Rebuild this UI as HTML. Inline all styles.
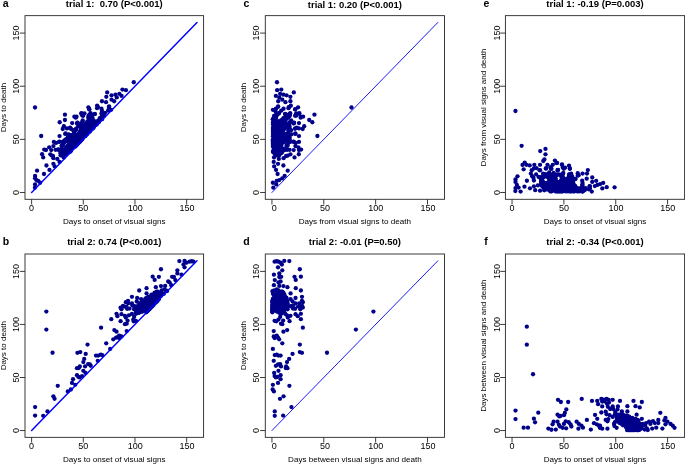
<!DOCTYPE html>
<html lang="en">
<head>
<meta charset="utf-8">
<title>Scatter plots: days to onset of visual signs and days to death</title>
<style>
html,body{margin:0;padding:0;background:#fff;}
body{width:685px;height:464px;overflow:hidden;}
svg{display:block;font-family:"Liberation Sans",Arial,Helvetica,sans-serif;}
.t{font-size:9.5px;font-weight:bold;fill:#000;text-anchor:middle;}
.l{font-size:10.5px;font-weight:bold;fill:#000;}
.k{font-size:9px;fill:#000;text-anchor:middle;}
.x{font-size:8.1px;fill:#000;text-anchor:middle;}
.y{font-size:8px;fill:#000;text-anchor:middle;}
.fr{fill:none;stroke:#262626;stroke-width:0.9;}
.tk{stroke:#262626;stroke-width:0.9;fill:none;}
.d{stroke:#0000ff;fill:none;stroke-linecap:round;}
.p circle{fill:#00008b;}
</style>
</head>
<body>
<svg width="685" height="464" viewBox="0 0 685 464">
<rect width="685" height="464" fill="#fff"/>
<g id="panel-a">
<g class="p"><circle cx="41.19" cy="136.02" r="2.15"/><circle cx="59.7" cy="122.25" r="2.15"/><circle cx="64.94" cy="114.67" r="2.15"/><circle cx="64.94" cy="120.02" r="2.15"/><circle cx="63.88" cy="126.27" r="2.15"/><circle cx="62.75" cy="129.01" r="2.15"/><circle cx="74.36" cy="116.63" r="2.15"/><circle cx="76.54" cy="116.75" r="2.15"/><circle cx="44.24" cy="149.61" r="2.15"/><circle cx="42.06" cy="154.23" r="2.15"/><circle cx="45.99" cy="150.01" r="2.15"/><circle cx="49.22" cy="147.3" r="2.15"/><circle cx="53.85" cy="141.93" r="2.15"/><circle cx="59.52" cy="136.1" r="2.15"/><circle cx="43.19" cy="157.44" r="2.15"/><circle cx="37.08" cy="170.72" r="2.15"/><circle cx="66.94" cy="128.47" r="2.15"/><circle cx="72.18" cy="123.08" r="2.15"/><circle cx="70" cy="127.69" r="2.15"/><circle cx="65.63" cy="133.49" r="2.15"/><circle cx="70.87" cy="128.54" r="2.15"/><circle cx="81.35" cy="113.65" r="2.15"/><circle cx="82.22" cy="115.55" r="2.15"/><circle cx="76.98" cy="123.58" r="2.15"/><circle cx="51.23" cy="150.05" r="2.15"/><circle cx="53.41" cy="146.05" r="2.15"/><circle cx="56.03" cy="142.93" r="2.15"/><circle cx="59.09" cy="141.97" r="2.15"/><circle cx="35.08" cy="175.89" r="2.15"/><circle cx="35.08" cy="178.34" r="2.15"/><circle cx="36.39" cy="180.05" r="2.15"/><circle cx="35.08" cy="184.47" r="2.15"/><circle cx="38.14" cy="180.89" r="2.15"/><circle cx="34.9" cy="187.72" r="2.15"/><circle cx="40.14" cy="182.76" r="2.15"/><circle cx="43.99" cy="173.99" r="2.15"/><circle cx="46.43" cy="165.52" r="2.15"/><circle cx="49.49" cy="169.92" r="2.15"/><circle cx="50.35" cy="154.31" r="2.15"/><circle cx="51.67" cy="155.59" r="2.15"/><circle cx="55.59" cy="149.8" r="2.15"/><circle cx="58.21" cy="149.73" r="2.15"/><circle cx="53.41" cy="158.17" r="2.15"/><circle cx="52.97" cy="155.99" r="2.15"/><circle cx="53.41" cy="163.87" r="2.15"/><circle cx="54.71" cy="166.46" r="2.15"/><circle cx="59.52" cy="161.96" r="2.15"/><circle cx="57.34" cy="158.95" r="2.15"/><circle cx="75.75" cy="117.69" r="2.15"/><circle cx="81.42" cy="113.17" r="2.15"/><circle cx="88.4" cy="107.3" r="2.15"/><circle cx="77.48" cy="122.9" r="2.15"/><circle cx="107.17" cy="92.38" r="2.15"/><circle cx="101.93" cy="101.27" r="2.15"/><circle cx="97.13" cy="105.77" r="2.15"/><circle cx="106.3" cy="96.78" r="2.15"/><circle cx="98" cy="107.06" r="2.15"/><circle cx="106.03" cy="102.13" r="2.15"/><circle cx="111.54" cy="95.34" r="2.15"/><circle cx="115.47" cy="94.63" r="2.15"/><circle cx="122.44" cy="89.55" r="2.15"/><circle cx="119.4" cy="93.83" r="2.15"/><circle cx="116.77" cy="97.4" r="2.15"/><circle cx="114.16" cy="101.23" r="2.15"/><circle cx="125.94" cy="90.16" r="2.15"/><circle cx="121.58" cy="95.96" r="2.15"/><circle cx="133.79" cy="82.26" r="2.15"/><circle cx="111.54" cy="99.72" r="2.15"/><circle cx="101.49" cy="108.73" r="2.15"/><circle cx="108.92" cy="106.79" r="2.15"/><circle cx="108.92" cy="108.98" r="2.15"/><circle cx="111.1" cy="109.8" r="2.15"/><circle cx="101.93" cy="119.23" r="2.15"/><circle cx="101.49" cy="113.54" r="2.15"/><circle cx="94.52" cy="114.16" r="2.15"/><circle cx="89.28" cy="109.47" r="2.15"/><circle cx="89.28" cy="115.16" r="2.15"/><circle cx="83.16" cy="115.75" r="2.15"/><circle cx="101.93" cy="116.16" r="2.15"/><circle cx="77.45" cy="122.69" r="2.15"/><circle cx="65.23" cy="133.95" r="2.15"/><circle cx="70.47" cy="128.56" r="2.15"/><circle cx="89.24" cy="109.26" r="2.15"/><circle cx="84.44" cy="113.32" r="2.15"/><circle cx="97.09" cy="108.19" r="2.15"/><circle cx="90.55" cy="113.17" r="2.15"/><circle cx="82.69" cy="120.37" r="2.15"/><circle cx="73.09" cy="130.24" r="2.15"/><circle cx="68.72" cy="134.3" r="2.15"/><circle cx="62.61" cy="141.89" r="2.15"/><circle cx="59.55" cy="141.53" r="2.15"/><circle cx="58.25" cy="149.44" r="2.15"/><circle cx="91.42" cy="116.21" r="2.15"/><circle cx="94.91" cy="113.94" r="2.15"/><circle cx="71.35" cy="135.54" r="2.15"/><circle cx="82.69" cy="125.63" r="2.15"/><circle cx="73.96" cy="134.16" r="2.15"/><circle cx="69.6" cy="139.96" r="2.15"/><circle cx="60.86" cy="149.82" r="2.15"/><circle cx="101.9" cy="119.17" r="2.15"/><circle cx="101.9" cy="117.04" r="2.15"/><circle cx="101.9" cy="114.91" r="2.15"/><circle cx="101.9" cy="112.79" r="2.15"/><circle cx="101.9" cy="110.66" r="2.15"/><circle cx="109.13" cy="108.54" r="2.15"/><circle cx="109.13" cy="106.41" r="2.15"/><circle cx="108.1" cy="110.66" r="2.15"/><circle cx="103.96" cy="115.98" r="2.15"/><circle cx="105" cy="112.79" r="2.15"/><circle cx="35.03" cy="107.48" r="2.15"/><circle cx="69.86" cy="152.11" r="2.15"/><circle cx="70.89" cy="151.05" r="2.15"/><circle cx="75.02" cy="146.8" r="2.15"/><circle cx="76.06" cy="145.74" r="2.15"/><circle cx="77.09" cy="144.67" r="2.15"/><circle cx="78.13" cy="143.61" r="2.15"/><circle cx="79.16" cy="142.55" r="2.15"/><circle cx="80.19" cy="141.48" r="2.15"/><circle cx="81.23" cy="140.42" r="2.15"/><circle cx="82.26" cy="139.36" r="2.15"/><circle cx="85.36" cy="136.17" r="2.15"/><circle cx="87.43" cy="134.04" r="2.15"/><circle cx="89.49" cy="131.92" r="2.15"/><circle cx="90.53" cy="130.86" r="2.15"/><circle cx="92.6" cy="128.73" r="2.15"/><circle cx="93.63" cy="127.67" r="2.15"/><circle cx="96.73" cy="124.48" r="2.15"/><circle cx="98.8" cy="122.35" r="2.15"/><circle cx="63.66" cy="157.43" r="2.15"/><circle cx="68.82" cy="152.11" r="2.15"/><circle cx="69.86" cy="151.05" r="2.15"/><circle cx="70.89" cy="149.99" r="2.15"/><circle cx="71.92" cy="148.92" r="2.15"/><circle cx="72.96" cy="147.86" r="2.15"/><circle cx="73.99" cy="146.8" r="2.15"/><circle cx="76.06" cy="144.67" r="2.15"/><circle cx="78.13" cy="142.55" r="2.15"/><circle cx="79.16" cy="141.48" r="2.15"/><circle cx="81.23" cy="139.36" r="2.15"/><circle cx="82.26" cy="138.3" r="2.15"/><circle cx="83.29" cy="137.23" r="2.15"/><circle cx="85.36" cy="135.11" r="2.15"/><circle cx="87.43" cy="132.98" r="2.15"/><circle cx="90.53" cy="129.79" r="2.15"/><circle cx="92.6" cy="127.67" r="2.15"/><circle cx="93.63" cy="126.61" r="2.15"/><circle cx="94.66" cy="125.54" r="2.15"/><circle cx="95.7" cy="124.48" r="2.15"/><circle cx="96.73" cy="123.42" r="2.15"/><circle cx="98.8" cy="121.29" r="2.15"/><circle cx="65.72" cy="154.24" r="2.15"/><circle cx="66.76" cy="153.17" r="2.15"/><circle cx="67.79" cy="152.11" r="2.15"/><circle cx="69.86" cy="149.99" r="2.15"/><circle cx="73.99" cy="145.74" r="2.15"/><circle cx="76.06" cy="143.61" r="2.15"/><circle cx="77.09" cy="142.55" r="2.15"/><circle cx="80.19" cy="139.36" r="2.15"/><circle cx="82.26" cy="137.23" r="2.15"/><circle cx="83.29" cy="136.17" r="2.15"/><circle cx="84.33" cy="135.11" r="2.15"/><circle cx="85.36" cy="134.04" r="2.15"/><circle cx="86.39" cy="132.98" r="2.15"/><circle cx="87.43" cy="131.92" r="2.15"/><circle cx="90.53" cy="128.73" r="2.15"/><circle cx="91.56" cy="127.67" r="2.15"/><circle cx="93.63" cy="125.54" r="2.15"/><circle cx="94.66" cy="124.48" r="2.15"/><circle cx="95.7" cy="123.42" r="2.15"/><circle cx="96.73" cy="122.35" r="2.15"/><circle cx="98.8" cy="120.23" r="2.15"/><circle cx="99.83" cy="119.17" r="2.15"/><circle cx="63.66" cy="155.3" r="2.15"/><circle cx="65.72" cy="153.17" r="2.15"/><circle cx="66.76" cy="152.11" r="2.15"/><circle cx="68.82" cy="149.99" r="2.15"/><circle cx="73.99" cy="144.67" r="2.15"/><circle cx="75.02" cy="143.61" r="2.15"/><circle cx="76.06" cy="142.55" r="2.15"/><circle cx="78.13" cy="140.42" r="2.15"/><circle cx="79.16" cy="139.36" r="2.15"/><circle cx="83.29" cy="135.11" r="2.15"/><circle cx="84.33" cy="134.04" r="2.15"/><circle cx="86.39" cy="131.92" r="2.15"/><circle cx="87.43" cy="130.86" r="2.15"/><circle cx="88.46" cy="129.79" r="2.15"/><circle cx="89.49" cy="128.73" r="2.15"/><circle cx="90.53" cy="127.67" r="2.15"/><circle cx="94.66" cy="123.42" r="2.15"/><circle cx="95.7" cy="122.35" r="2.15"/><circle cx="96.73" cy="121.29" r="2.15"/><circle cx="99.83" cy="118.1" r="2.15"/><circle cx="62.62" cy="155.3" r="2.15"/><circle cx="68.82" cy="148.92" r="2.15"/><circle cx="70.89" cy="146.8" r="2.15"/><circle cx="71.92" cy="145.74" r="2.15"/><circle cx="75.02" cy="142.55" r="2.15"/><circle cx="79.16" cy="138.3" r="2.15"/><circle cx="80.19" cy="137.23" r="2.15"/><circle cx="81.23" cy="136.17" r="2.15"/><circle cx="83.29" cy="134.04" r="2.15"/><circle cx="87.43" cy="129.79" r="2.15"/><circle cx="91.56" cy="125.54" r="2.15"/><circle cx="61.59" cy="155.3" r="2.15"/><circle cx="62.62" cy="154.24" r="2.15"/><circle cx="63.66" cy="153.17" r="2.15"/><circle cx="66.76" cy="149.99" r="2.15"/><circle cx="70.89" cy="145.74" r="2.15"/><circle cx="75.02" cy="141.48" r="2.15"/><circle cx="80.19" cy="136.17" r="2.15"/><circle cx="81.23" cy="135.11" r="2.15"/><circle cx="82.26" cy="134.04" r="2.15"/><circle cx="84.33" cy="131.92" r="2.15"/><circle cx="87.43" cy="128.73" r="2.15"/><circle cx="88.46" cy="127.67" r="2.15"/><circle cx="89.49" cy="126.61" r="2.15"/><circle cx="90.53" cy="125.54" r="2.15"/><circle cx="91.56" cy="124.48" r="2.15"/><circle cx="92.6" cy="123.42" r="2.15"/><circle cx="93.63" cy="122.35" r="2.15"/><circle cx="94.66" cy="121.29" r="2.15"/><circle cx="60.55" cy="155.3" r="2.15"/><circle cx="61.59" cy="154.24" r="2.15"/><circle cx="62.62" cy="153.17" r="2.15"/><circle cx="65.72" cy="149.99" r="2.15"/><circle cx="67.79" cy="147.86" r="2.15"/><circle cx="68.82" cy="146.8" r="2.15"/><circle cx="69.86" cy="145.74" r="2.15"/><circle cx="70.89" cy="144.67" r="2.15"/><circle cx="71.92" cy="143.61" r="2.15"/><circle cx="73.99" cy="141.48" r="2.15"/><circle cx="75.02" cy="140.42" r="2.15"/><circle cx="77.09" cy="138.3" r="2.15"/><circle cx="78.13" cy="137.23" r="2.15"/><circle cx="79.16" cy="136.17" r="2.15"/><circle cx="83.29" cy="131.92" r="2.15"/><circle cx="86.39" cy="128.73" r="2.15"/><circle cx="87.43" cy="127.67" r="2.15"/><circle cx="89.49" cy="125.54" r="2.15"/><circle cx="93.63" cy="121.29" r="2.15"/><circle cx="61.59" cy="153.17" r="2.15"/><circle cx="62.62" cy="152.11" r="2.15"/><circle cx="63.66" cy="151.05" r="2.15"/><circle cx="65.72" cy="148.92" r="2.15"/><circle cx="68.82" cy="145.74" r="2.15"/><circle cx="69.86" cy="144.67" r="2.15"/><circle cx="70.89" cy="143.61" r="2.15"/><circle cx="71.92" cy="142.55" r="2.15"/><circle cx="73.99" cy="140.42" r="2.15"/><circle cx="78.13" cy="136.17" r="2.15"/><circle cx="80.19" cy="134.04" r="2.15"/><circle cx="81.23" cy="132.98" r="2.15"/><circle cx="82.26" cy="131.92" r="2.15"/><circle cx="84.33" cy="129.79" r="2.15"/><circle cx="85.36" cy="128.73" r="2.15"/><circle cx="86.39" cy="127.67" r="2.15"/><circle cx="87.43" cy="126.61" r="2.15"/><circle cx="89.49" cy="124.48" r="2.15"/><circle cx="90.53" cy="123.42" r="2.15"/><circle cx="60.55" cy="153.17" r="2.15"/><circle cx="61.59" cy="152.11" r="2.15"/><circle cx="62.62" cy="151.05" r="2.15"/><circle cx="65.72" cy="147.86" r="2.15"/><circle cx="66.76" cy="146.8" r="2.15"/><circle cx="67.79" cy="145.74" r="2.15"/><circle cx="69.86" cy="143.61" r="2.15"/><circle cx="71.92" cy="141.48" r="2.15"/><circle cx="76.06" cy="137.23" r="2.15"/><circle cx="78.13" cy="135.11" r="2.15"/><circle cx="79.16" cy="134.04" r="2.15"/><circle cx="80.19" cy="132.98" r="2.15"/><circle cx="81.23" cy="131.92" r="2.15"/><circle cx="82.26" cy="130.86" r="2.15"/><circle cx="83.29" cy="129.79" r="2.15"/><circle cx="84.33" cy="128.73" r="2.15"/><circle cx="87.43" cy="125.54" r="2.15"/><circle cx="88.46" cy="124.48" r="2.15"/><circle cx="89.49" cy="123.42" r="2.15"/><circle cx="92.6" cy="120.23" r="2.15"/><circle cx="60.55" cy="152.11" r="2.15"/><circle cx="62.62" cy="149.99" r="2.15"/><circle cx="70.89" cy="141.48" r="2.15"/><circle cx="72.96" cy="139.36" r="2.15"/><circle cx="73.99" cy="138.3" r="2.15"/><circle cx="76.06" cy="136.17" r="2.15"/><circle cx="77.09" cy="135.11" r="2.15"/><circle cx="79.16" cy="132.98" r="2.15"/><circle cx="82.26" cy="129.79" r="2.15"/><circle cx="83.29" cy="128.73" r="2.15"/><circle cx="86.39" cy="125.54" r="2.15"/><circle cx="87.43" cy="124.48" r="2.15"/><circle cx="88.46" cy="123.42" r="2.15"/><circle cx="89.49" cy="122.35" r="2.15"/><circle cx="90.53" cy="121.29" r="2.15"/><circle cx="91.56" cy="120.23" r="2.15"/><circle cx="61.59" cy="149.99" r="2.15"/><circle cx="68.82" cy="142.55" r="2.15"/><circle cx="72.96" cy="138.3" r="2.15"/><circle cx="80.19" cy="130.86" r="2.15"/><circle cx="82.26" cy="128.73" r="2.15"/><circle cx="86.39" cy="124.48" r="2.15"/><circle cx="87.43" cy="123.42" r="2.15"/><circle cx="89.49" cy="121.29" r="2.15"/><circle cx="91.56" cy="119.17" r="2.15"/><circle cx="92.6" cy="118.1" r="2.15"/><circle cx="60.55" cy="149.99" r="2.15"/><circle cx="61.59" cy="148.92" r="2.15"/><circle cx="68.82" cy="141.48" r="2.15"/><circle cx="69.86" cy="140.42" r="2.15"/><circle cx="70.89" cy="139.36" r="2.15"/><circle cx="75.02" cy="135.11" r="2.15"/><circle cx="81.23" cy="128.73" r="2.15"/><circle cx="82.26" cy="127.67" r="2.15"/><circle cx="84.33" cy="125.54" r="2.15"/><circle cx="86.39" cy="123.42" r="2.15"/><circle cx="87.43" cy="122.35" r="2.15"/><circle cx="89.49" cy="120.23" r="2.15"/><circle cx="91.56" cy="118.1" r="2.15"/><circle cx="68.82" cy="140.42" r="2.15"/><circle cx="70.89" cy="138.3" r="2.15"/><circle cx="73.99" cy="135.11" r="2.15"/><circle cx="75.02" cy="134.04" r="2.15"/><circle cx="81.23" cy="127.67" r="2.15"/><circle cx="83.29" cy="125.54" r="2.15"/><circle cx="86.39" cy="122.35" r="2.15"/><circle cx="88.46" cy="120.23" r="2.15"/><circle cx="89.49" cy="119.17" r="2.15"/><circle cx="91.56" cy="117.04" r="2.15"/><circle cx="62.62" cy="145.74" r="2.15"/><circle cx="67.79" cy="140.42" r="2.15"/><circle cx="69.86" cy="138.3" r="2.15"/><circle cx="71.92" cy="136.17" r="2.15"/><circle cx="72.96" cy="135.11" r="2.15"/><circle cx="81.23" cy="126.61" r="2.15"/><circle cx="82.26" cy="125.54" r="2.15"/><circle cx="90.53" cy="117.04" r="2.15"/><circle cx="61.59" cy="145.74" r="2.15"/><circle cx="62.62" cy="144.67" r="2.15"/><circle cx="63.66" cy="143.61" r="2.15"/><circle cx="65.72" cy="141.48" r="2.15"/><circle cx="66.76" cy="140.42" r="2.15"/><circle cx="67.79" cy="139.36" r="2.15"/><circle cx="71.92" cy="135.11" r="2.15"/><circle cx="88.46" cy="118.1" r="2.15"/><circle cx="89.49" cy="117.04" r="2.15"/><circle cx="90.53" cy="115.98" r="2.15"/><circle cx="91.56" cy="114.91" r="2.15"/><circle cx="63.66" cy="142.55" r="2.15"/><circle cx="67.79" cy="138.3" r="2.15"/><circle cx="73.99" cy="131.92" r="2.15"/><circle cx="75.02" cy="130.86" r="2.15"/><circle cx="76.06" cy="129.79" r="2.15"/><circle cx="80.19" cy="125.54" r="2.15"/><circle cx="81.23" cy="124.48" r="2.15"/><circle cx="88.46" cy="117.04" r="2.15"/><circle cx="89.49" cy="115.98" r="2.15"/><circle cx="90.53" cy="114.91" r="2.15"/><circle cx="63.66" cy="141.48" r="2.15"/><circle cx="64.69" cy="140.42" r="2.15"/><circle cx="65.72" cy="139.36" r="2.15"/><circle cx="67.79" cy="137.23" r="2.15"/><circle cx="69.86" cy="135.11" r="2.15"/><circle cx="76.06" cy="128.73" r="2.15"/><circle cx="78.13" cy="126.61" r="2.15"/><circle cx="81.23" cy="123.42" r="2.15"/><circle cx="82.26" cy="122.35" r="2.15"/><circle cx="88.46" cy="115.98" r="2.15"/><circle cx="89.49" cy="114.91" r="2.15"/><circle cx="90.53" cy="113.85" r="2.15"/></g>
<line class="d" x1="31.61" y1="192.5" x2="196.99" y2="22.45" stroke-width="1.45"/>
<rect class="fr" x="25" y="15.65" width="178.6" height="183.65"/>
<path class="tk" d="M31.61 199.3v5.2M25 192.5h-5.2M83.29 199.3v5.2M25 139.36h-5.2M134.97 199.3v5.2M25 86.22h-5.2M186.65 199.3v5.2M25 33.08h-5.2"/>
<text class="k" x="31.61" y="211.2">0</text><text class="k" x="83.29" y="211.2">50</text><text class="k" x="135.27" y="211.2">100</text><text class="k" x="186.95" y="211.2">150</text>
<text class="k" transform="translate(18.8 192.5) rotate(-90)">0</text><text class="k" transform="translate(18.8 139.36) rotate(-90)">50</text><text class="k" transform="translate(18.8 86.22) rotate(-90)">100</text><text class="k" transform="translate(18.8 33.08) rotate(-90)">150</text>
<text class="x" x="114.3" y="223.9">Days to onset of visual signs</text>
<text class="y" transform="translate(6 107.48) rotate(-90)">Days to death</text>
<text class="t" x="114.3" y="7.3" xml:space="preserve">trial 1:  0.70 (P&lt;0.001)</text>
<text class="l" x="2.8" y="7.3">a</text>
</g>
<g id="panel-b">
<g class="p"><circle cx="46.35" cy="311.58" r="2.15"/><circle cx="46.35" cy="329.55" r="2.15"/><circle cx="52.54" cy="352.74" r="2.15"/><circle cx="35.08" cy="407.04" r="2.15"/><circle cx="35.08" cy="415.53" r="2.15"/><circle cx="43.19" cy="415.78" r="2.15"/><circle cx="47.47" cy="411.39" r="2.15"/><circle cx="57.77" cy="385.84" r="2.15"/><circle cx="53.41" cy="396.28" r="2.15"/><circle cx="54.55" cy="398.79" r="2.15"/><circle cx="77.41" cy="352.79" r="2.15"/><circle cx="76.98" cy="368.14" r="2.15"/><circle cx="78.72" cy="368.1" r="2.15"/><circle cx="73.05" cy="379.17" r="2.15"/><circle cx="72.01" cy="382.88" r="2.15"/><circle cx="76.98" cy="375.14" r="2.15"/><circle cx="78.29" cy="376.87" r="2.15"/><circle cx="67.81" cy="391.39" r="2.15"/><circle cx="70.87" cy="389.48" r="2.15"/><circle cx="75.23" cy="384.82" r="2.15"/><circle cx="80.29" cy="352.04" r="2.15"/><circle cx="87.54" cy="344.6" r="2.15"/><circle cx="101.07" cy="327.64" r="2.15"/><circle cx="111.28" cy="319.17" r="2.15"/><circle cx="85.7" cy="353.93" r="2.15"/><circle cx="84.22" cy="358.95" r="2.15"/><circle cx="83.34" cy="362.04" r="2.15"/><circle cx="79.85" cy="366.5" r="2.15"/><circle cx="85.09" cy="366.38" r="2.15"/><circle cx="83.34" cy="370.8" r="2.15"/><circle cx="88.15" cy="364.12" r="2.15"/><circle cx="89.9" cy="364.52" r="2.15"/><circle cx="90.77" cy="365.81" r="2.15"/><circle cx="85.53" cy="372.93" r="2.15"/><circle cx="82.03" cy="376.08" r="2.15"/><circle cx="79.42" cy="377.46" r="2.15"/><circle cx="96.01" cy="355.62" r="2.15"/><circle cx="98.19" cy="355.56" r="2.15"/><circle cx="100.8" cy="354.63" r="2.15"/><circle cx="102.29" cy="355.12" r="2.15"/><circle cx="97.75" cy="360.83" r="2.15"/><circle cx="106.22" cy="343.37" r="2.15"/><circle cx="110.15" cy="348.97" r="2.15"/><circle cx="114.34" cy="330.05" r="2.15"/><circle cx="116.52" cy="331.66" r="2.15"/><circle cx="117.39" cy="316.14" r="2.15"/><circle cx="116.52" cy="313.79" r="2.15"/><circle cx="113.29" cy="339.36" r="2.15"/><circle cx="116.08" cy="337.63" r="2.15"/><circle cx="118.27" cy="336.7" r="2.15"/><circle cx="119.14" cy="337.99" r="2.15"/><circle cx="125.83" cy="302.22" r="2.15"/><circle cx="128.02" cy="300.86" r="2.15"/><circle cx="131.94" cy="296.82" r="2.15"/><circle cx="139.19" cy="290.52" r="2.15"/><circle cx="120.59" cy="307.59" r="2.15"/><circle cx="121.46" cy="309.33" r="2.15"/><circle cx="121.46" cy="314.15" r="2.15"/><circle cx="126.27" cy="306.59" r="2.15"/><circle cx="127.14" cy="308.76" r="2.15"/><circle cx="131.94" cy="303.39" r="2.15"/><circle cx="137.18" cy="298.01" r="2.15"/><circle cx="120.59" cy="321.18" r="2.15"/><circle cx="124.96" cy="315.82" r="2.15"/><circle cx="125.83" cy="317.55" r="2.15"/><circle cx="128.88" cy="315.29" r="2.15"/><circle cx="132.38" cy="305.57" r="2.15"/><circle cx="136.74" cy="301.52" r="2.15"/><circle cx="141.11" cy="299.06" r="2.15"/><circle cx="131.94" cy="313.91" r="2.15"/><circle cx="124.96" cy="324.14" r="2.15"/><circle cx="127.58" cy="320.57" r="2.15"/><circle cx="126.7" cy="323.66" r="2.15"/><circle cx="134.12" cy="316.92" r="2.15"/><circle cx="133.69" cy="321.3" r="2.15"/><circle cx="135.87" cy="320.81" r="2.15"/><circle cx="133.26" cy="319.56" r="2.15"/><circle cx="121.46" cy="336.49" r="2.15"/><circle cx="126.7" cy="331.11" r="2.15"/><circle cx="119.28" cy="335.66" r="2.15"/><circle cx="152.67" cy="276.69" r="2.15"/><circle cx="160.97" cy="269.23" r="2.15"/><circle cx="146.56" cy="288.21" r="2.15"/><circle cx="154.67" cy="279.88" r="2.15"/><circle cx="158.87" cy="276.8" r="2.15"/><circle cx="146.56" cy="293.47" r="2.15"/><circle cx="155.81" cy="287.21" r="2.15"/><circle cx="179.38" cy="261.09" r="2.15"/><circle cx="160.97" cy="286.04" r="2.15"/><circle cx="172.14" cy="276.84" r="2.15"/><circle cx="177.37" cy="270.33" r="2.15"/><circle cx="184.53" cy="260.96" r="2.15"/><circle cx="183.49" cy="264.49" r="2.15"/><circle cx="186.54" cy="262.67" r="2.15"/><circle cx="184.53" cy="267.36" r="2.15"/><circle cx="189.6" cy="261.72" r="2.15"/><circle cx="191.78" cy="261.24" r="2.15"/><circle cx="193.52" cy="261.63" r="2.15"/><circle cx="181.47" cy="274.7" r="2.15"/><circle cx="175.36" cy="280.1" r="2.15"/><circle cx="171.26" cy="285.18" r="2.15"/><circle cx="168.21" cy="281.49" r="2.15"/><circle cx="165.15" cy="285.94" r="2.15"/><circle cx="169.51" cy="282.34" r="2.15"/><circle cx="173.89" cy="276.98" r="2.15"/><circle cx="177.37" cy="273.4" r="2.15"/><circle cx="161.66" cy="290.4" r="2.15"/><circle cx="164.28" cy="289.46" r="2.15"/><circle cx="166.02" cy="290.3" r="2.15"/><circle cx="166.9" cy="291.16" r="2.15"/><circle cx="163.84" cy="293.85" r="2.15"/><circle cx="123.03" cy="305.82" r="2.15"/><circle cx="129.43" cy="308.59" r="2.15"/><circle cx="134.38" cy="306.15" r="2.15"/><circle cx="134.08" cy="309.37" r="2.15"/><circle cx="123.9" cy="306.68" r="2.15"/><circle cx="128.26" cy="303.37" r="2.15"/><circle cx="136" cy="313.84" r="2.15"/><circle cx="136" cy="312.78" r="2.15"/><circle cx="136" cy="310.66" r="2.15"/><circle cx="136" cy="308.54" r="2.15"/><circle cx="136" cy="307.48" r="2.15"/><circle cx="137.04" cy="312.78" r="2.15"/><circle cx="137.04" cy="311.72" r="2.15"/><circle cx="137.04" cy="310.66" r="2.15"/><circle cx="137.04" cy="309.6" r="2.15"/><circle cx="137.04" cy="308.54" r="2.15"/><circle cx="137.04" cy="306.42" r="2.15"/><circle cx="138.07" cy="312.78" r="2.15"/><circle cx="138.07" cy="308.54" r="2.15"/><circle cx="138.07" cy="306.42" r="2.15"/><circle cx="139.11" cy="312.78" r="2.15"/><circle cx="139.11" cy="311.72" r="2.15"/><circle cx="139.11" cy="310.66" r="2.15"/><circle cx="139.11" cy="309.6" r="2.15"/><circle cx="139.11" cy="307.48" r="2.15"/><circle cx="139.11" cy="304.29" r="2.15"/><circle cx="140.14" cy="310.66" r="2.15"/><circle cx="140.14" cy="309.6" r="2.15"/><circle cx="140.14" cy="308.54" r="2.15"/><circle cx="140.14" cy="306.42" r="2.15"/><circle cx="140.14" cy="305.35" r="2.15"/><circle cx="140.14" cy="303.23" r="2.15"/><circle cx="141.17" cy="311.72" r="2.15"/><circle cx="141.17" cy="308.54" r="2.15"/><circle cx="141.17" cy="303.23" r="2.15"/><circle cx="142.21" cy="311.72" r="2.15"/><circle cx="142.21" cy="310.66" r="2.15"/><circle cx="142.21" cy="308.54" r="2.15"/><circle cx="142.21" cy="307.48" r="2.15"/><circle cx="142.21" cy="306.42" r="2.15"/><circle cx="142.21" cy="301.11" r="2.15"/><circle cx="143.24" cy="307.48" r="2.15"/><circle cx="143.24" cy="304.29" r="2.15"/><circle cx="143.24" cy="302.17" r="2.15"/><circle cx="144.27" cy="308.54" r="2.15"/><circle cx="144.27" cy="307.48" r="2.15"/><circle cx="144.27" cy="305.35" r="2.15"/><circle cx="144.27" cy="304.29" r="2.15"/><circle cx="144.27" cy="303.23" r="2.15"/><circle cx="144.27" cy="302.17" r="2.15"/><circle cx="144.27" cy="301.11" r="2.15"/><circle cx="145.31" cy="310.66" r="2.15"/><circle cx="145.31" cy="309.6" r="2.15"/><circle cx="145.31" cy="308.54" r="2.15"/><circle cx="145.31" cy="306.42" r="2.15"/><circle cx="145.31" cy="305.35" r="2.15"/><circle cx="145.31" cy="300.05" r="2.15"/><circle cx="145.31" cy="298.99" r="2.15"/><circle cx="146.34" cy="309.6" r="2.15"/><circle cx="146.34" cy="306.42" r="2.15"/><circle cx="146.34" cy="305.35" r="2.15"/><circle cx="146.34" cy="304.29" r="2.15"/><circle cx="146.34" cy="303.23" r="2.15"/><circle cx="146.34" cy="302.17" r="2.15"/><circle cx="146.34" cy="300.05" r="2.15"/><circle cx="146.34" cy="298.99" r="2.15"/><circle cx="146.34" cy="297.93" r="2.15"/><circle cx="147.37" cy="308.54" r="2.15"/><circle cx="147.37" cy="301.11" r="2.15"/><circle cx="148.41" cy="307.48" r="2.15"/><circle cx="148.41" cy="306.42" r="2.15"/><circle cx="148.41" cy="305.35" r="2.15"/><circle cx="148.41" cy="303.23" r="2.15"/><circle cx="148.41" cy="302.17" r="2.15"/><circle cx="148.41" cy="301.11" r="2.15"/><circle cx="148.41" cy="300.05" r="2.15"/><circle cx="148.41" cy="298.99" r="2.15"/><circle cx="148.41" cy="297.93" r="2.15"/><circle cx="148.41" cy="296.87" r="2.15"/><circle cx="149.44" cy="307.48" r="2.15"/><circle cx="149.44" cy="306.42" r="2.15"/><circle cx="149.44" cy="305.35" r="2.15"/><circle cx="149.44" cy="304.29" r="2.15"/><circle cx="149.44" cy="301.11" r="2.15"/><circle cx="149.44" cy="300.05" r="2.15"/><circle cx="149.44" cy="298.99" r="2.15"/><circle cx="149.44" cy="297.93" r="2.15"/><circle cx="149.44" cy="296.87" r="2.15"/><circle cx="150.47" cy="305.35" r="2.15"/><circle cx="150.47" cy="304.29" r="2.15"/><circle cx="150.47" cy="303.23" r="2.15"/><circle cx="150.47" cy="302.17" r="2.15"/><circle cx="150.47" cy="301.11" r="2.15"/><circle cx="150.47" cy="300.05" r="2.15"/><circle cx="150.47" cy="297.93" r="2.15"/><circle cx="150.47" cy="296.87" r="2.15"/><circle cx="151.51" cy="304.29" r="2.15"/><circle cx="151.51" cy="302.17" r="2.15"/><circle cx="151.51" cy="296.87" r="2.15"/><circle cx="151.51" cy="295.81" r="2.15"/><circle cx="151.51" cy="294.74" r="2.15"/><circle cx="152.54" cy="301.11" r="2.15"/><circle cx="152.54" cy="300.05" r="2.15"/><circle cx="153.58" cy="304.29" r="2.15"/><circle cx="153.58" cy="302.17" r="2.15"/><circle cx="153.58" cy="301.11" r="2.15"/><circle cx="153.58" cy="300.05" r="2.15"/><circle cx="153.58" cy="298.99" r="2.15"/><circle cx="153.58" cy="297.93" r="2.15"/><circle cx="153.58" cy="294.74" r="2.15"/><circle cx="154.61" cy="301.11" r="2.15"/><circle cx="154.61" cy="300.05" r="2.15"/><circle cx="154.61" cy="298.99" r="2.15"/><circle cx="154.61" cy="297.93" r="2.15"/><circle cx="154.61" cy="296.87" r="2.15"/><circle cx="154.61" cy="292.62" r="2.15"/><circle cx="155.64" cy="300.05" r="2.15"/><circle cx="155.64" cy="294.74" r="2.15"/><circle cx="155.64" cy="293.68" r="2.15"/><circle cx="156.68" cy="301.11" r="2.15"/><circle cx="156.68" cy="297.93" r="2.15"/><circle cx="156.68" cy="296.87" r="2.15"/><circle cx="156.68" cy="293.68" r="2.15"/><circle cx="156.68" cy="292.62" r="2.15"/><circle cx="156.68" cy="291.56" r="2.15"/><circle cx="157.71" cy="297.93" r="2.15"/><circle cx="157.71" cy="293.68" r="2.15"/><circle cx="157.71" cy="291.56" r="2.15"/><circle cx="158.74" cy="298.99" r="2.15"/><circle cx="158.74" cy="293.68" r="2.15"/><circle cx="146.34" cy="312.36" r="2.15"/><circle cx="147.37" cy="311.3" r="2.15"/><circle cx="148.41" cy="310.24" r="2.15"/><circle cx="149.44" cy="309.17" r="2.15"/><circle cx="150.47" cy="308.11" r="2.15"/><circle cx="151.51" cy="307.05" r="2.15"/><circle cx="152.54" cy="305.99" r="2.15"/><circle cx="153.58" cy="304.93" r="2.15"/><circle cx="155.64" cy="302.81" r="2.15"/><circle cx="156.68" cy="301.75" r="2.15"/><circle cx="157.71" cy="300.69" r="2.15"/><circle cx="158.74" cy="298.99" r="2.15"/><circle cx="158.74" cy="296.87" r="2.15"/><circle cx="158.74" cy="295.81" r="2.15"/><circle cx="158.74" cy="293.68" r="2.15"/><circle cx="159.78" cy="294.74" r="2.15"/><circle cx="160.81" cy="295.81" r="2.15"/><circle cx="160.81" cy="293.68" r="2.15"/><circle cx="160.81" cy="292.62" r="2.15"/></g>
<line class="d" x1="31.61" y1="430.56" x2="196.99" y2="260.79" stroke-width="1.45"/>
<rect class="fr" x="25" y="254" width="178.6" height="183.35"/>
<path class="tk" d="M31.61 437.35v5.2M25 430.56h-5.2M83.29 437.35v5.2M25 377.51h-5.2M134.97 437.35v5.2M25 324.45h-5.2M186.65 437.35v5.2M25 271.4h-5.2"/>
<text class="k" x="31.61" y="449.25">0</text><text class="k" x="83.29" y="449.25">50</text><text class="k" x="135.27" y="449.25">100</text><text class="k" x="186.95" y="449.25">150</text>
<text class="k" transform="translate(18.8 430.56) rotate(-90)">0</text><text class="k" transform="translate(18.8 377.51) rotate(-90)">50</text><text class="k" transform="translate(18.8 324.45) rotate(-90)">100</text><text class="k" transform="translate(18.8 271.4) rotate(-90)">150</text>
<text class="x" x="114.3" y="461.95">Days to onset of visual signs</text>
<text class="y" transform="translate(6 345.68) rotate(-90)">Days to death</text>
<text class="t" x="114.3" y="245.1" xml:space="preserve">trial 2: 0.74 (P&lt;0.001)</text>
<text class="l" x="2.7" y="245.1">b</text>
</g>
<g id="panel-c">
<g class="p"><circle cx="317.43" cy="136.02" r="2.15"/><circle cx="312.31" cy="122.25" r="2.15"/><circle cx="314.45" cy="114.67" r="2.15"/><circle cx="309.23" cy="120.02" r="2.15"/><circle cx="304.19" cy="126.27" r="2.15"/><circle cx="302.65" cy="129.01" r="2.15"/><circle cx="303.08" cy="116.63" r="2.15"/><circle cx="300.77" cy="116.75" r="2.15"/><circle cx="301.11" cy="149.61" r="2.15"/><circle cx="298.81" cy="154.23" r="2.15"/><circle cx="298.97" cy="150.01" r="2.15"/><circle cx="298.38" cy="147.3" r="2.15"/><circle cx="298.97" cy="141.93" r="2.15"/><circle cx="298.97" cy="136.1" r="2.15"/><circle cx="294.53" cy="157.44" r="2.15"/><circle cx="287.69" cy="170.72" r="2.15"/><circle cx="298.97" cy="128.47" r="2.15"/><circle cx="298.97" cy="123.08" r="2.15"/><circle cx="296.67" cy="127.69" r="2.15"/><circle cx="295.38" cy="133.49" r="2.15"/><circle cx="294.96" cy="128.54" r="2.15"/><circle cx="298.97" cy="113.65" r="2.15"/><circle cx="296.25" cy="115.55" r="2.15"/><circle cx="293.67" cy="123.58" r="2.15"/><circle cx="293.67" cy="150.05" r="2.15"/><circle cx="295.38" cy="146.05" r="2.15"/><circle cx="295.81" cy="142.93" r="2.15"/><circle cx="293.67" cy="141.97" r="2.15"/><circle cx="284.67" cy="175.89" r="2.15"/><circle cx="282.28" cy="178.34" r="2.15"/><circle cx="279.29" cy="180.05" r="2.15"/><circle cx="276.29" cy="184.47" r="2.15"/><circle cx="276.73" cy="180.89" r="2.15"/><circle cx="273.31" cy="187.72" r="2.15"/><circle cx="272.88" cy="182.76" r="2.15"/><circle cx="277.58" cy="173.99" r="2.15"/><circle cx="283.4" cy="165.52" r="2.15"/><circle cx="276.04" cy="169.92" r="2.15"/><circle cx="290.4" cy="154.31" r="2.15"/><circle cx="287.83" cy="155.59" r="2.15"/><circle cx="289.55" cy="149.8" r="2.15"/><circle cx="286.98" cy="149.73" r="2.15"/><circle cx="283.56" cy="158.17" r="2.15"/><circle cx="286.12" cy="155.99" r="2.15"/><circle cx="278" cy="163.87" r="2.15"/><circle cx="274.16" cy="166.46" r="2.15"/><circle cx="273.73" cy="161.96" r="2.15"/><circle cx="278.86" cy="158.95" r="2.15"/><circle cx="300.65" cy="117.69" r="2.15"/><circle cx="299.38" cy="113.17" r="2.15"/><circle cx="298.09" cy="107.3" r="2.15"/><circle cx="293.82" cy="122.9" r="2.15"/><circle cx="293.82" cy="92.38" r="2.15"/><circle cx="290.4" cy="101.27" r="2.15"/><circle cx="290.83" cy="105.77" r="2.15"/><circle cx="290.4" cy="96.78" r="2.15"/><circle cx="288.7" cy="107.06" r="2.15"/><circle cx="285.44" cy="102.13" r="2.15"/><circle cx="286.55" cy="95.34" r="2.15"/><circle cx="283.3" cy="94.63" r="2.15"/><circle cx="281.26" cy="89.55" r="2.15"/><circle cx="280.14" cy="93.83" r="2.15"/><circle cx="279.29" cy="97.4" r="2.15"/><circle cx="278.18" cy="101.23" r="2.15"/><circle cx="277.15" cy="90.16" r="2.15"/><circle cx="275.87" cy="95.96" r="2.15"/><circle cx="276.98" cy="82.26" r="2.15"/><circle cx="282.28" cy="99.72" r="2.15"/><circle cx="283.56" cy="108.73" r="2.15"/><circle cx="278" cy="106.79" r="2.15"/><circle cx="275.87" cy="108.98" r="2.15"/><circle cx="272.88" cy="109.8" r="2.15"/><circle cx="272.88" cy="119.23" r="2.15"/><circle cx="278.86" cy="113.54" r="2.15"/><circle cx="285.27" cy="114.16" r="2.15"/><circle cx="295.1" cy="109.47" r="2.15"/><circle cx="289.55" cy="115.16" r="2.15"/><circle cx="295.1" cy="115.75" r="2.15"/><circle cx="275.87" cy="116.16" r="2.15"/><circle cx="294.06" cy="122.69" r="2.15"/><circle cx="295.34" cy="133.95" r="2.15"/><circle cx="295.34" cy="128.56" r="2.15"/><circle cx="295.34" cy="109.26" r="2.15"/><circle cx="296.19" cy="113.32" r="2.15"/><circle cx="288.51" cy="108.19" r="2.15"/><circle cx="290.22" cy="113.17" r="2.15"/><circle cx="291.07" cy="120.37" r="2.15"/><circle cx="291.07" cy="130.24" r="2.15"/><circle cx="291.5" cy="134.3" r="2.15"/><circle cx="290.22" cy="141.89" r="2.15"/><circle cx="293.63" cy="141.53" r="2.15"/><circle cx="287.22" cy="149.44" r="2.15"/><circle cx="286.37" cy="116.21" r="2.15"/><circle cx="285.09" cy="113.94" r="2.15"/><circle cx="287.65" cy="135.54" r="2.15"/><circle cx="285.94" cy="125.63" r="2.15"/><circle cx="286.37" cy="134.16" r="2.15"/><circle cx="285.09" cy="139.96" r="2.15"/><circle cx="284.24" cy="149.82" r="2.15"/><circle cx="272.97" cy="119.17" r="2.15"/><circle cx="275.05" cy="117.04" r="2.15"/><circle cx="277.12" cy="114.91" r="2.15"/><circle cx="279.2" cy="112.79" r="2.15"/><circle cx="281.27" cy="110.66" r="2.15"/><circle cx="276.09" cy="108.54" r="2.15"/><circle cx="278.16" cy="106.41" r="2.15"/><circle cx="275.05" cy="110.66" r="2.15"/><circle cx="274.01" cy="115.98" r="2.15"/><circle cx="276.09" cy="112.79" r="2.15"/><circle cx="351.48" cy="107.48" r="2.15"/><circle cx="272.97" cy="152.11" r="2.15"/><circle cx="272.97" cy="151.05" r="2.15"/><circle cx="272.97" cy="146.8" r="2.15"/><circle cx="272.97" cy="145.74" r="2.15"/><circle cx="272.97" cy="144.67" r="2.15"/><circle cx="272.97" cy="143.61" r="2.15"/><circle cx="272.97" cy="142.55" r="2.15"/><circle cx="272.97" cy="141.48" r="2.15"/><circle cx="272.97" cy="140.42" r="2.15"/><circle cx="272.97" cy="139.36" r="2.15"/><circle cx="272.97" cy="136.17" r="2.15"/><circle cx="272.97" cy="134.04" r="2.15"/><circle cx="272.97" cy="131.92" r="2.15"/><circle cx="272.97" cy="130.86" r="2.15"/><circle cx="272.97" cy="128.73" r="2.15"/><circle cx="272.97" cy="127.67" r="2.15"/><circle cx="272.97" cy="124.48" r="2.15"/><circle cx="272.97" cy="122.35" r="2.15"/><circle cx="274.01" cy="157.43" r="2.15"/><circle cx="274.01" cy="152.11" r="2.15"/><circle cx="274.01" cy="151.05" r="2.15"/><circle cx="274.01" cy="149.99" r="2.15"/><circle cx="274.01" cy="148.92" r="2.15"/><circle cx="274.01" cy="147.86" r="2.15"/><circle cx="274.01" cy="146.8" r="2.15"/><circle cx="274.01" cy="144.67" r="2.15"/><circle cx="274.01" cy="142.55" r="2.15"/><circle cx="274.01" cy="141.48" r="2.15"/><circle cx="274.01" cy="139.36" r="2.15"/><circle cx="274.01" cy="138.3" r="2.15"/><circle cx="274.01" cy="137.23" r="2.15"/><circle cx="274.01" cy="135.11" r="2.15"/><circle cx="274.01" cy="132.98" r="2.15"/><circle cx="274.01" cy="129.79" r="2.15"/><circle cx="274.01" cy="127.67" r="2.15"/><circle cx="274.01" cy="126.61" r="2.15"/><circle cx="274.01" cy="125.54" r="2.15"/><circle cx="274.01" cy="124.48" r="2.15"/><circle cx="274.01" cy="123.42" r="2.15"/><circle cx="274.01" cy="121.29" r="2.15"/><circle cx="275.05" cy="154.24" r="2.15"/><circle cx="275.05" cy="153.17" r="2.15"/><circle cx="275.05" cy="152.11" r="2.15"/><circle cx="275.05" cy="149.99" r="2.15"/><circle cx="275.05" cy="145.74" r="2.15"/><circle cx="275.05" cy="143.61" r="2.15"/><circle cx="275.05" cy="142.55" r="2.15"/><circle cx="275.05" cy="139.36" r="2.15"/><circle cx="275.05" cy="137.23" r="2.15"/><circle cx="275.05" cy="136.17" r="2.15"/><circle cx="275.05" cy="135.11" r="2.15"/><circle cx="275.05" cy="134.04" r="2.15"/><circle cx="275.05" cy="132.98" r="2.15"/><circle cx="275.05" cy="131.92" r="2.15"/><circle cx="275.05" cy="128.73" r="2.15"/><circle cx="275.05" cy="127.67" r="2.15"/><circle cx="275.05" cy="125.54" r="2.15"/><circle cx="275.05" cy="124.48" r="2.15"/><circle cx="275.05" cy="123.42" r="2.15"/><circle cx="275.05" cy="122.35" r="2.15"/><circle cx="275.05" cy="120.23" r="2.15"/><circle cx="275.05" cy="119.17" r="2.15"/><circle cx="276.09" cy="155.3" r="2.15"/><circle cx="276.09" cy="153.17" r="2.15"/><circle cx="276.09" cy="152.11" r="2.15"/><circle cx="276.09" cy="149.99" r="2.15"/><circle cx="276.09" cy="144.67" r="2.15"/><circle cx="276.09" cy="143.61" r="2.15"/><circle cx="276.09" cy="142.55" r="2.15"/><circle cx="276.09" cy="140.42" r="2.15"/><circle cx="276.09" cy="139.36" r="2.15"/><circle cx="276.09" cy="135.11" r="2.15"/><circle cx="276.09" cy="134.04" r="2.15"/><circle cx="276.09" cy="131.92" r="2.15"/><circle cx="276.09" cy="130.86" r="2.15"/><circle cx="276.09" cy="129.79" r="2.15"/><circle cx="276.09" cy="128.73" r="2.15"/><circle cx="276.09" cy="127.67" r="2.15"/><circle cx="276.09" cy="123.42" r="2.15"/><circle cx="276.09" cy="122.35" r="2.15"/><circle cx="276.09" cy="121.29" r="2.15"/><circle cx="276.09" cy="118.1" r="2.15"/><circle cx="277.12" cy="155.3" r="2.15"/><circle cx="277.12" cy="148.92" r="2.15"/><circle cx="277.12" cy="146.8" r="2.15"/><circle cx="277.12" cy="145.74" r="2.15"/><circle cx="277.12" cy="142.55" r="2.15"/><circle cx="277.12" cy="138.3" r="2.15"/><circle cx="277.12" cy="137.23" r="2.15"/><circle cx="277.12" cy="136.17" r="2.15"/><circle cx="277.12" cy="134.04" r="2.15"/><circle cx="277.12" cy="129.79" r="2.15"/><circle cx="277.12" cy="125.54" r="2.15"/><circle cx="278.16" cy="155.3" r="2.15"/><circle cx="278.16" cy="154.24" r="2.15"/><circle cx="278.16" cy="153.17" r="2.15"/><circle cx="278.16" cy="149.99" r="2.15"/><circle cx="278.16" cy="145.74" r="2.15"/><circle cx="278.16" cy="141.48" r="2.15"/><circle cx="278.16" cy="136.17" r="2.15"/><circle cx="278.16" cy="135.11" r="2.15"/><circle cx="278.16" cy="134.04" r="2.15"/><circle cx="278.16" cy="131.92" r="2.15"/><circle cx="278.16" cy="128.73" r="2.15"/><circle cx="278.16" cy="127.67" r="2.15"/><circle cx="278.16" cy="126.61" r="2.15"/><circle cx="278.16" cy="125.54" r="2.15"/><circle cx="278.16" cy="124.48" r="2.15"/><circle cx="278.16" cy="123.42" r="2.15"/><circle cx="278.16" cy="122.35" r="2.15"/><circle cx="278.16" cy="121.29" r="2.15"/><circle cx="279.2" cy="155.3" r="2.15"/><circle cx="279.2" cy="154.24" r="2.15"/><circle cx="279.2" cy="153.17" r="2.15"/><circle cx="279.2" cy="149.99" r="2.15"/><circle cx="279.2" cy="147.86" r="2.15"/><circle cx="279.2" cy="146.8" r="2.15"/><circle cx="279.2" cy="145.74" r="2.15"/><circle cx="279.2" cy="144.67" r="2.15"/><circle cx="279.2" cy="143.61" r="2.15"/><circle cx="279.2" cy="141.48" r="2.15"/><circle cx="279.2" cy="140.42" r="2.15"/><circle cx="279.2" cy="138.3" r="2.15"/><circle cx="279.2" cy="137.23" r="2.15"/><circle cx="279.2" cy="136.17" r="2.15"/><circle cx="279.2" cy="131.92" r="2.15"/><circle cx="279.2" cy="128.73" r="2.15"/><circle cx="279.2" cy="127.67" r="2.15"/><circle cx="279.2" cy="125.54" r="2.15"/><circle cx="279.2" cy="121.29" r="2.15"/><circle cx="280.23" cy="153.17" r="2.15"/><circle cx="280.23" cy="152.11" r="2.15"/><circle cx="280.23" cy="151.05" r="2.15"/><circle cx="280.23" cy="148.92" r="2.15"/><circle cx="280.23" cy="145.74" r="2.15"/><circle cx="280.23" cy="144.67" r="2.15"/><circle cx="280.23" cy="143.61" r="2.15"/><circle cx="280.23" cy="142.55" r="2.15"/><circle cx="280.23" cy="140.42" r="2.15"/><circle cx="280.23" cy="136.17" r="2.15"/><circle cx="280.23" cy="134.04" r="2.15"/><circle cx="280.23" cy="132.98" r="2.15"/><circle cx="280.23" cy="131.92" r="2.15"/><circle cx="280.23" cy="129.79" r="2.15"/><circle cx="280.23" cy="128.73" r="2.15"/><circle cx="280.23" cy="127.67" r="2.15"/><circle cx="280.23" cy="126.61" r="2.15"/><circle cx="280.23" cy="124.48" r="2.15"/><circle cx="280.23" cy="123.42" r="2.15"/><circle cx="281.27" cy="153.17" r="2.15"/><circle cx="281.27" cy="152.11" r="2.15"/><circle cx="281.27" cy="151.05" r="2.15"/><circle cx="281.27" cy="147.86" r="2.15"/><circle cx="281.27" cy="146.8" r="2.15"/><circle cx="281.27" cy="145.74" r="2.15"/><circle cx="281.27" cy="143.61" r="2.15"/><circle cx="281.27" cy="141.48" r="2.15"/><circle cx="281.27" cy="137.23" r="2.15"/><circle cx="281.27" cy="135.11" r="2.15"/><circle cx="281.27" cy="134.04" r="2.15"/><circle cx="281.27" cy="132.98" r="2.15"/><circle cx="281.27" cy="131.92" r="2.15"/><circle cx="281.27" cy="130.86" r="2.15"/><circle cx="281.27" cy="129.79" r="2.15"/><circle cx="281.27" cy="128.73" r="2.15"/><circle cx="281.27" cy="125.54" r="2.15"/><circle cx="281.27" cy="124.48" r="2.15"/><circle cx="281.27" cy="123.42" r="2.15"/><circle cx="281.27" cy="120.23" r="2.15"/><circle cx="282.31" cy="152.11" r="2.15"/><circle cx="282.31" cy="149.99" r="2.15"/><circle cx="282.31" cy="141.48" r="2.15"/><circle cx="282.31" cy="139.36" r="2.15"/><circle cx="282.31" cy="138.3" r="2.15"/><circle cx="282.31" cy="136.17" r="2.15"/><circle cx="282.31" cy="135.11" r="2.15"/><circle cx="282.31" cy="132.98" r="2.15"/><circle cx="282.31" cy="129.79" r="2.15"/><circle cx="282.31" cy="128.73" r="2.15"/><circle cx="282.31" cy="125.54" r="2.15"/><circle cx="282.31" cy="124.48" r="2.15"/><circle cx="282.31" cy="123.42" r="2.15"/><circle cx="282.31" cy="122.35" r="2.15"/><circle cx="282.31" cy="121.29" r="2.15"/><circle cx="282.31" cy="120.23" r="2.15"/><circle cx="283.34" cy="149.99" r="2.15"/><circle cx="283.34" cy="142.55" r="2.15"/><circle cx="283.34" cy="138.3" r="2.15"/><circle cx="283.34" cy="130.86" r="2.15"/><circle cx="283.34" cy="128.73" r="2.15"/><circle cx="283.34" cy="124.48" r="2.15"/><circle cx="283.34" cy="123.42" r="2.15"/><circle cx="283.34" cy="121.29" r="2.15"/><circle cx="283.34" cy="119.17" r="2.15"/><circle cx="283.34" cy="118.1" r="2.15"/><circle cx="284.38" cy="149.99" r="2.15"/><circle cx="284.38" cy="148.92" r="2.15"/><circle cx="284.38" cy="141.48" r="2.15"/><circle cx="284.38" cy="140.42" r="2.15"/><circle cx="284.38" cy="139.36" r="2.15"/><circle cx="284.38" cy="135.11" r="2.15"/><circle cx="284.38" cy="128.73" r="2.15"/><circle cx="284.38" cy="127.67" r="2.15"/><circle cx="284.38" cy="125.54" r="2.15"/><circle cx="284.38" cy="123.42" r="2.15"/><circle cx="284.38" cy="122.35" r="2.15"/><circle cx="284.38" cy="120.23" r="2.15"/><circle cx="284.38" cy="118.1" r="2.15"/><circle cx="285.42" cy="140.42" r="2.15"/><circle cx="285.42" cy="138.3" r="2.15"/><circle cx="285.42" cy="135.11" r="2.15"/><circle cx="285.42" cy="134.04" r="2.15"/><circle cx="285.42" cy="127.67" r="2.15"/><circle cx="285.42" cy="125.54" r="2.15"/><circle cx="285.42" cy="122.35" r="2.15"/><circle cx="285.42" cy="120.23" r="2.15"/><circle cx="285.42" cy="119.17" r="2.15"/><circle cx="285.42" cy="117.04" r="2.15"/><circle cx="286.46" cy="145.74" r="2.15"/><circle cx="286.46" cy="140.42" r="2.15"/><circle cx="286.46" cy="138.3" r="2.15"/><circle cx="286.46" cy="136.17" r="2.15"/><circle cx="286.46" cy="135.11" r="2.15"/><circle cx="286.46" cy="126.61" r="2.15"/><circle cx="286.46" cy="125.54" r="2.15"/><circle cx="286.46" cy="117.04" r="2.15"/><circle cx="287.49" cy="145.74" r="2.15"/><circle cx="287.49" cy="144.67" r="2.15"/><circle cx="287.49" cy="143.61" r="2.15"/><circle cx="287.49" cy="141.48" r="2.15"/><circle cx="287.49" cy="140.42" r="2.15"/><circle cx="287.49" cy="139.36" r="2.15"/><circle cx="287.49" cy="135.11" r="2.15"/><circle cx="287.49" cy="118.1" r="2.15"/><circle cx="287.49" cy="117.04" r="2.15"/><circle cx="287.49" cy="115.98" r="2.15"/><circle cx="287.49" cy="114.91" r="2.15"/><circle cx="288.53" cy="142.55" r="2.15"/><circle cx="288.53" cy="138.3" r="2.15"/><circle cx="288.53" cy="131.92" r="2.15"/><circle cx="288.53" cy="130.86" r="2.15"/><circle cx="288.53" cy="129.79" r="2.15"/><circle cx="288.53" cy="125.54" r="2.15"/><circle cx="288.53" cy="124.48" r="2.15"/><circle cx="288.53" cy="117.04" r="2.15"/><circle cx="288.53" cy="115.98" r="2.15"/><circle cx="288.53" cy="114.91" r="2.15"/><circle cx="289.57" cy="141.48" r="2.15"/><circle cx="289.57" cy="140.42" r="2.15"/><circle cx="289.57" cy="139.36" r="2.15"/><circle cx="289.57" cy="137.23" r="2.15"/><circle cx="289.57" cy="135.11" r="2.15"/><circle cx="289.57" cy="128.73" r="2.15"/><circle cx="289.57" cy="126.61" r="2.15"/><circle cx="289.57" cy="123.42" r="2.15"/><circle cx="289.57" cy="122.35" r="2.15"/><circle cx="289.57" cy="115.98" r="2.15"/><circle cx="289.57" cy="114.91" r="2.15"/><circle cx="289.57" cy="113.85" r="2.15"/></g>
<line class="d" x1="271.94" y1="192.5" x2="437.86" y2="22.45" stroke-width="0.9"/>
<rect class="fr" x="265.3" y="15.65" width="179.2" height="183.65"/>
<path class="tk" d="M271.94 199.3v5.2M265.3 192.5h-5.2M323.79 199.3v5.2M265.3 139.36h-5.2M375.64 199.3v5.2M265.3 86.22h-5.2M427.49 199.3v5.2M265.3 33.08h-5.2"/>
<text class="k" x="274.14" y="211.2">0</text><text class="k" x="324.99" y="211.2">50</text><text class="k" x="375.74" y="211.2">100</text><text class="k" x="427.99" y="211.2">150</text>
<text class="k" transform="translate(259.1 192.5) rotate(-90)">0</text><text class="k" transform="translate(259.1 139.36) rotate(-90)">50</text><text class="k" transform="translate(259.1 86.22) rotate(-90)">100</text><text class="k" transform="translate(259.1 33.08) rotate(-90)">150</text>
<text class="x" x="354.9" y="223.9">Days from visual signs to death</text>
<text class="y" transform="translate(246.3 107.48) rotate(-90)">Days to death</text>
<text class="t" x="354.9" y="8.1" xml:space="preserve">trial 1: 0.20 (P&lt;0.001)</text>
<text class="l" x="243.5" y="7.3">c</text>
</g>
<g id="panel-d">
<g class="p"><circle cx="373.43" cy="311.58" r="2.15"/><circle cx="355.87" cy="329.55" r="2.15"/><circle cx="326.99" cy="352.74" r="2.15"/><circle cx="291.45" cy="407.04" r="2.15"/><circle cx="283.15" cy="415.53" r="2.15"/><circle cx="274.76" cy="415.78" r="2.15"/><circle cx="274.76" cy="411.39" r="2.15"/><circle cx="289.4" cy="385.84" r="2.15"/><circle cx="283.57" cy="396.28" r="2.15"/><circle cx="279.98" cy="398.79" r="2.15"/><circle cx="301.98" cy="352.79" r="2.15"/><circle cx="287.43" cy="368.14" r="2.15"/><circle cx="285.72" cy="368.1" r="2.15"/><circle cx="280.59" cy="379.17" r="2.15"/><circle cx="278.01" cy="382.88" r="2.15"/><circle cx="280.59" cy="375.14" r="2.15"/><circle cx="277.59" cy="376.87" r="2.15"/><circle cx="273.91" cy="391.39" r="2.15"/><circle cx="272.7" cy="389.48" r="2.15"/><circle cx="272.88" cy="384.82" r="2.15"/><circle cx="299.84" cy="352.04" r="2.15"/><circle cx="299.84" cy="344.6" r="2.15"/><circle cx="302.84" cy="327.64" r="2.15"/><circle cx="300.87" cy="319.17" r="2.15"/><circle cx="292.56" cy="353.93" r="2.15"/><circle cx="289.14" cy="358.95" r="2.15"/><circle cx="287.01" cy="362.04" r="2.15"/><circle cx="286.14" cy="366.5" r="2.15"/><circle cx="281.01" cy="366.38" r="2.15"/><circle cx="278.44" cy="370.8" r="2.15"/><circle cx="280.15" cy="364.12" r="2.15"/><circle cx="278.01" cy="364.52" r="2.15"/><circle cx="275.87" cy="365.81" r="2.15"/><circle cx="274.16" cy="372.93" r="2.15"/><circle cx="274.59" cy="376.08" r="2.15"/><circle cx="275.87" cy="377.46" r="2.15"/><circle cx="280.59" cy="355.62" r="2.15"/><circle cx="278.44" cy="355.56" r="2.15"/><circle cx="276.73" cy="354.63" r="2.15"/><circle cx="274.76" cy="355.12" r="2.15"/><circle cx="273.73" cy="360.83" r="2.15"/><circle cx="282.3" cy="343.37" r="2.15"/><circle cx="272.88" cy="348.97" r="2.15"/><circle cx="287.17" cy="330.05" r="2.15"/><circle cx="283.41" cy="331.66" r="2.15"/><circle cx="297.71" cy="316.14" r="2.15"/><circle cx="300.87" cy="313.79" r="2.15"/><circle cx="279.12" cy="339.36" r="2.15"/><circle cx="278.01" cy="337.63" r="2.15"/><circle cx="276.73" cy="336.7" r="2.15"/><circle cx="274.59" cy="337.99" r="2.15"/><circle cx="302.84" cy="302.22" r="2.15"/><circle cx="301.98" cy="300.86" r="2.15"/><circle cx="301.98" cy="296.82" r="2.15"/><circle cx="300.87" cy="290.52" r="2.15"/><circle cx="302.84" cy="307.59" r="2.15"/><circle cx="300.27" cy="309.33" r="2.15"/><circle cx="295.56" cy="314.15" r="2.15"/><circle cx="298.13" cy="306.59" r="2.15"/><circle cx="295.14" cy="308.76" r="2.15"/><circle cx="295.56" cy="303.39" r="2.15"/><circle cx="295.56" cy="298.01" r="2.15"/><circle cx="289.57" cy="321.18" r="2.15"/><circle cx="290.43" cy="315.82" r="2.15"/><circle cx="287.86" cy="317.55" r="2.15"/><circle cx="287.01" cy="315.29" r="2.15"/><circle cx="292.99" cy="305.57" r="2.15"/><circle cx="292.56" cy="301.52" r="2.15"/><circle cx="290.59" cy="299.06" r="2.15"/><circle cx="285.29" cy="313.91" r="2.15"/><circle cx="282.3" cy="324.14" r="2.15"/><circle cx="283.15" cy="320.57" r="2.15"/><circle cx="281.01" cy="323.66" r="2.15"/><circle cx="280.15" cy="316.92" r="2.15"/><circle cx="276.3" cy="321.3" r="2.15"/><circle cx="274.59" cy="320.81" r="2.15"/><circle cx="278.44" cy="319.56" r="2.15"/><circle cx="273.73" cy="336.49" r="2.15"/><circle cx="273.73" cy="331.11" r="2.15"/><circle cx="276.73" cy="335.66" r="2.15"/><circle cx="300.87" cy="276.69" r="2.15"/><circle cx="299.84" cy="269.23" r="2.15"/><circle cx="295.74" cy="288.21" r="2.15"/><circle cx="295.74" cy="279.88" r="2.15"/><circle cx="294.53" cy="276.8" r="2.15"/><circle cx="290.59" cy="293.47" r="2.15"/><circle cx="287.43" cy="287.21" r="2.15"/><circle cx="289.32" cy="261.09" r="2.15"/><circle cx="283.41" cy="286.04" r="2.15"/><circle cx="281.18" cy="276.84" r="2.15"/><circle cx="282.3" cy="270.33" r="2.15"/><circle cx="284.26" cy="260.96" r="2.15"/><circle cx="281.86" cy="264.49" r="2.15"/><circle cx="280.59" cy="262.67" r="2.15"/><circle cx="278.01" cy="267.36" r="2.15"/><circle cx="278.44" cy="261.72" r="2.15"/><circle cx="276.73" cy="261.24" r="2.15"/><circle cx="274.59" cy="261.63" r="2.15"/><circle cx="273.91" cy="274.7" r="2.15"/><circle cx="274.76" cy="280.1" r="2.15"/><circle cx="273.91" cy="285.18" r="2.15"/><circle cx="280.59" cy="281.49" r="2.15"/><circle cx="279.3" cy="285.94" r="2.15"/><circle cx="278.44" cy="282.34" r="2.15"/><circle cx="279.3" cy="276.98" r="2.15"/><circle cx="279.3" cy="273.4" r="2.15"/><circle cx="278.44" cy="290.4" r="2.15"/><circle cx="276.73" cy="289.46" r="2.15"/><circle cx="274.16" cy="290.3" r="2.15"/><circle cx="272.45" cy="291.16" r="2.15"/><circle cx="272.88" cy="293.85" r="2.15"/><circle cx="302.13" cy="305.82" r="2.15"/><circle cx="292.99" cy="308.59" r="2.15"/><circle cx="290.43" cy="306.15" r="2.15"/><circle cx="287.58" cy="309.37" r="2.15"/><circle cx="300.41" cy="306.68" r="2.15"/><circle cx="299.27" cy="303.37" r="2.15"/><circle cx="281.27" cy="313.84" r="2.15"/><circle cx="282.31" cy="312.78" r="2.15"/><circle cx="284.38" cy="310.66" r="2.15"/><circle cx="286.46" cy="308.54" r="2.15"/><circle cx="287.49" cy="307.48" r="2.15"/><circle cx="281.27" cy="312.78" r="2.15"/><circle cx="282.31" cy="311.72" r="2.15"/><circle cx="283.34" cy="310.66" r="2.15"/><circle cx="284.38" cy="309.6" r="2.15"/><circle cx="285.42" cy="308.54" r="2.15"/><circle cx="287.49" cy="306.42" r="2.15"/><circle cx="280.23" cy="312.78" r="2.15"/><circle cx="284.38" cy="308.54" r="2.15"/><circle cx="286.46" cy="306.42" r="2.15"/><circle cx="279.2" cy="312.78" r="2.15"/><circle cx="280.23" cy="311.72" r="2.15"/><circle cx="281.27" cy="310.66" r="2.15"/><circle cx="282.31" cy="309.6" r="2.15"/><circle cx="284.38" cy="307.48" r="2.15"/><circle cx="287.49" cy="304.29" r="2.15"/><circle cx="280.23" cy="310.66" r="2.15"/><circle cx="281.27" cy="309.6" r="2.15"/><circle cx="282.31" cy="308.54" r="2.15"/><circle cx="284.38" cy="306.42" r="2.15"/><circle cx="285.42" cy="305.35" r="2.15"/><circle cx="287.49" cy="303.23" r="2.15"/><circle cx="278.16" cy="311.72" r="2.15"/><circle cx="281.27" cy="308.54" r="2.15"/><circle cx="286.46" cy="303.23" r="2.15"/><circle cx="277.12" cy="311.72" r="2.15"/><circle cx="278.16" cy="310.66" r="2.15"/><circle cx="280.23" cy="308.54" r="2.15"/><circle cx="281.27" cy="307.48" r="2.15"/><circle cx="282.31" cy="306.42" r="2.15"/><circle cx="287.49" cy="301.11" r="2.15"/><circle cx="280.23" cy="307.48" r="2.15"/><circle cx="283.34" cy="304.29" r="2.15"/><circle cx="285.42" cy="302.17" r="2.15"/><circle cx="278.16" cy="308.54" r="2.15"/><circle cx="279.2" cy="307.48" r="2.15"/><circle cx="281.27" cy="305.35" r="2.15"/><circle cx="282.31" cy="304.29" r="2.15"/><circle cx="283.34" cy="303.23" r="2.15"/><circle cx="284.38" cy="302.17" r="2.15"/><circle cx="285.42" cy="301.11" r="2.15"/><circle cx="275.05" cy="310.66" r="2.15"/><circle cx="276.09" cy="309.6" r="2.15"/><circle cx="277.12" cy="308.54" r="2.15"/><circle cx="279.2" cy="306.42" r="2.15"/><circle cx="280.23" cy="305.35" r="2.15"/><circle cx="285.42" cy="300.05" r="2.15"/><circle cx="286.46" cy="298.99" r="2.15"/><circle cx="275.05" cy="309.6" r="2.15"/><circle cx="278.16" cy="306.42" r="2.15"/><circle cx="279.2" cy="305.35" r="2.15"/><circle cx="280.23" cy="304.29" r="2.15"/><circle cx="281.27" cy="303.23" r="2.15"/><circle cx="282.31" cy="302.17" r="2.15"/><circle cx="284.38" cy="300.05" r="2.15"/><circle cx="285.42" cy="298.99" r="2.15"/><circle cx="286.46" cy="297.93" r="2.15"/><circle cx="275.05" cy="308.54" r="2.15"/><circle cx="282.31" cy="301.11" r="2.15"/><circle cx="275.05" cy="307.48" r="2.15"/><circle cx="276.09" cy="306.42" r="2.15"/><circle cx="277.12" cy="305.35" r="2.15"/><circle cx="279.2" cy="303.23" r="2.15"/><circle cx="280.23" cy="302.17" r="2.15"/><circle cx="281.27" cy="301.11" r="2.15"/><circle cx="282.31" cy="300.05" r="2.15"/><circle cx="283.34" cy="298.99" r="2.15"/><circle cx="284.38" cy="297.93" r="2.15"/><circle cx="285.42" cy="296.87" r="2.15"/><circle cx="274.01" cy="307.48" r="2.15"/><circle cx="275.05" cy="306.42" r="2.15"/><circle cx="276.09" cy="305.35" r="2.15"/><circle cx="277.12" cy="304.29" r="2.15"/><circle cx="280.23" cy="301.11" r="2.15"/><circle cx="281.27" cy="300.05" r="2.15"/><circle cx="282.31" cy="298.99" r="2.15"/><circle cx="283.34" cy="297.93" r="2.15"/><circle cx="284.38" cy="296.87" r="2.15"/><circle cx="275.05" cy="305.35" r="2.15"/><circle cx="276.09" cy="304.29" r="2.15"/><circle cx="277.12" cy="303.23" r="2.15"/><circle cx="278.16" cy="302.17" r="2.15"/><circle cx="279.2" cy="301.11" r="2.15"/><circle cx="280.23" cy="300.05" r="2.15"/><circle cx="282.31" cy="297.93" r="2.15"/><circle cx="283.34" cy="296.87" r="2.15"/><circle cx="275.05" cy="304.29" r="2.15"/><circle cx="277.12" cy="302.17" r="2.15"/><circle cx="282.31" cy="296.87" r="2.15"/><circle cx="283.34" cy="295.81" r="2.15"/><circle cx="284.38" cy="294.74" r="2.15"/><circle cx="277.12" cy="301.11" r="2.15"/><circle cx="278.16" cy="300.05" r="2.15"/><circle cx="272.97" cy="304.29" r="2.15"/><circle cx="275.05" cy="302.17" r="2.15"/><circle cx="276.09" cy="301.11" r="2.15"/><circle cx="277.12" cy="300.05" r="2.15"/><circle cx="278.16" cy="298.99" r="2.15"/><circle cx="279.2" cy="297.93" r="2.15"/><circle cx="282.31" cy="294.74" r="2.15"/><circle cx="275.05" cy="301.11" r="2.15"/><circle cx="276.09" cy="300.05" r="2.15"/><circle cx="277.12" cy="298.99" r="2.15"/><circle cx="278.16" cy="297.93" r="2.15"/><circle cx="279.2" cy="296.87" r="2.15"/><circle cx="283.34" cy="292.62" r="2.15"/><circle cx="275.05" cy="300.05" r="2.15"/><circle cx="280.23" cy="294.74" r="2.15"/><circle cx="281.27" cy="293.68" r="2.15"/><circle cx="272.97" cy="301.11" r="2.15"/><circle cx="276.09" cy="297.93" r="2.15"/><circle cx="277.12" cy="296.87" r="2.15"/><circle cx="280.23" cy="293.68" r="2.15"/><circle cx="281.27" cy="292.62" r="2.15"/><circle cx="282.31" cy="291.56" r="2.15"/><circle cx="275.05" cy="297.93" r="2.15"/><circle cx="279.2" cy="293.68" r="2.15"/><circle cx="281.27" cy="291.56" r="2.15"/><circle cx="272.97" cy="298.99" r="2.15"/><circle cx="278.16" cy="293.68" r="2.15"/><circle cx="272.35" cy="312.36" r="2.15"/><circle cx="272.35" cy="311.3" r="2.15"/><circle cx="272.35" cy="310.24" r="2.15"/><circle cx="272.35" cy="309.17" r="2.15"/><circle cx="272.35" cy="308.11" r="2.15"/><circle cx="272.35" cy="307.05" r="2.15"/><circle cx="272.35" cy="305.99" r="2.15"/><circle cx="272.35" cy="304.93" r="2.15"/><circle cx="272.35" cy="302.81" r="2.15"/><circle cx="272.35" cy="301.75" r="2.15"/><circle cx="272.35" cy="300.69" r="2.15"/><circle cx="272.97" cy="298.99" r="2.15"/><circle cx="275.05" cy="296.87" r="2.15"/><circle cx="276.09" cy="295.81" r="2.15"/><circle cx="278.16" cy="293.68" r="2.15"/><circle cx="276.09" cy="294.74" r="2.15"/><circle cx="274.01" cy="295.81" r="2.15"/><circle cx="276.09" cy="293.68" r="2.15"/><circle cx="277.12" cy="292.62" r="2.15"/></g>
<line class="d" x1="271.94" y1="430.56" x2="437.86" y2="260.79" stroke-width="0.9"/>
<rect class="fr" x="265.3" y="254" width="179.2" height="183.35"/>
<path class="tk" d="M271.94 437.35v5.2M265.3 430.56h-5.2M323.79 437.35v5.2M265.3 377.51h-5.2M375.64 437.35v5.2M265.3 324.45h-5.2M427.49 437.35v5.2M265.3 271.4h-5.2"/>
<text class="k" x="274.14" y="449.25">0</text><text class="k" x="324.99" y="449.25">50</text><text class="k" x="375.74" y="449.25">100</text><text class="k" x="427.99" y="449.25">150</text>
<text class="k" transform="translate(259.1 430.56) rotate(-90)">0</text><text class="k" transform="translate(259.1 377.51) rotate(-90)">50</text><text class="k" transform="translate(259.1 324.45) rotate(-90)">100</text><text class="k" transform="translate(259.1 271.4) rotate(-90)">150</text>
<text class="x" x="354.9" y="461.95">Days between visual signs and death</text>
<text class="y" transform="translate(246.3 345.68) rotate(-90)">Days to death</text>
<text class="t" x="354.9" y="245.1" xml:space="preserve">trial 2: -0.01 (P=0.50)</text>
<text class="l" x="243.3" y="245.1">d</text>
</g>
<g id="panel-e">
<g class="p"><circle cx="521.64" cy="145.87" r="2.15"/><circle cx="540.21" cy="151.12" r="2.15"/><circle cx="545.47" cy="148.93" r="2.15"/><circle cx="545.47" cy="154.28" r="2.15"/><circle cx="544.41" cy="159.45" r="2.15"/><circle cx="543.27" cy="161.02" r="2.15"/><circle cx="554.93" cy="160.58" r="2.15"/><circle cx="557.12" cy="162.95" r="2.15"/><circle cx="524.71" cy="162.6" r="2.15"/><circle cx="522.52" cy="164.96" r="2.15"/><circle cx="526.46" cy="164.79" r="2.15"/><circle cx="529.7" cy="165.4" r="2.15"/><circle cx="534.34" cy="164.79" r="2.15"/><circle cx="540.04" cy="164.79" r="2.15"/><circle cx="523.65" cy="169.34" r="2.15"/><circle cx="517.52" cy="176.35" r="2.15"/><circle cx="547.48" cy="164.79" r="2.15"/><circle cx="552.74" cy="164.79" r="2.15"/><circle cx="550.55" cy="167.15" r="2.15"/><circle cx="546.17" cy="168.47" r="2.15"/><circle cx="551.42" cy="168.9" r="2.15"/><circle cx="561.94" cy="164.79" r="2.15"/><circle cx="562.81" cy="167.59" r="2.15"/><circle cx="557.55" cy="170.22" r="2.15"/><circle cx="531.72" cy="170.22" r="2.15"/><circle cx="533.91" cy="168.47" r="2.15"/><circle cx="536.53" cy="168.03" r="2.15"/><circle cx="539.6" cy="170.22" r="2.15"/><circle cx="515.51" cy="179.45" r="2.15"/><circle cx="515.51" cy="181.9" r="2.15"/><circle cx="516.83" cy="184.96" r="2.15"/><circle cx="515.51" cy="188.03" r="2.15"/><circle cx="518.58" cy="187.59" r="2.15"/><circle cx="515.33" cy="191.1" r="2.15"/><circle cx="520.59" cy="191.53" r="2.15"/><circle cx="524.45" cy="186.72" r="2.15"/><circle cx="526.9" cy="180.75" r="2.15"/><circle cx="529.97" cy="188.29" r="2.15"/><circle cx="530.84" cy="173.58" r="2.15"/><circle cx="532.16" cy="176.21" r="2.15"/><circle cx="536.1" cy="174.45" r="2.15"/><circle cx="538.72" cy="177.08" r="2.15"/><circle cx="533.91" cy="180.58" r="2.15"/><circle cx="533.46" cy="177.96" r="2.15"/><circle cx="533.91" cy="186.28" r="2.15"/><circle cx="535.21" cy="190.22" r="2.15"/><circle cx="540.04" cy="190.66" r="2.15"/><circle cx="537.85" cy="185.4" r="2.15"/><circle cx="556.32" cy="163.07" r="2.15"/><circle cx="562.01" cy="164.38" r="2.15"/><circle cx="569.01" cy="165.69" r="2.15"/><circle cx="558.06" cy="170.07" r="2.15"/><circle cx="587.84" cy="170.07" r="2.15"/><circle cx="582.59" cy="173.58" r="2.15"/><circle cx="577.77" cy="173.13" r="2.15"/><circle cx="586.97" cy="173.58" r="2.15"/><circle cx="578.65" cy="175.32" r="2.15"/><circle cx="586.7" cy="178.66" r="2.15"/><circle cx="592.23" cy="177.52" r="2.15"/><circle cx="596.17" cy="180.85" r="2.15"/><circle cx="603.17" cy="182.94" r="2.15"/><circle cx="600.11" cy="184.09" r="2.15"/><circle cx="597.48" cy="184.96" r="2.15"/><circle cx="594.85" cy="186.1" r="2.15"/><circle cx="606.68" cy="187.15" r="2.15"/><circle cx="602.3" cy="188.47" r="2.15"/><circle cx="614.56" cy="187.33" r="2.15"/><circle cx="592.23" cy="181.9" r="2.15"/><circle cx="582.15" cy="180.58" r="2.15"/><circle cx="589.6" cy="186.28" r="2.15"/><circle cx="589.6" cy="188.47" r="2.15"/><circle cx="591.79" cy="191.53" r="2.15"/><circle cx="582.59" cy="191.53" r="2.15"/><circle cx="582.15" cy="185.4" r="2.15"/><circle cx="575.15" cy="178.83" r="2.15"/><circle cx="569.89" cy="168.76" r="2.15"/><circle cx="569.89" cy="174.45" r="2.15"/><circle cx="563.75" cy="168.76" r="2.15"/><circle cx="582.59" cy="188.47" r="2.15"/><circle cx="558.03" cy="169.83" r="2.15"/><circle cx="545.76" cy="168.51" r="2.15"/><circle cx="551.02" cy="168.51" r="2.15"/><circle cx="569.85" cy="168.51" r="2.15"/><circle cx="565.04" cy="167.64" r="2.15"/><circle cx="577.73" cy="175.51" r="2.15"/><circle cx="571.17" cy="173.76" r="2.15"/><circle cx="563.29" cy="172.89" r="2.15"/><circle cx="553.65" cy="172.89" r="2.15"/><circle cx="549.27" cy="172.45" r="2.15"/><circle cx="543.14" cy="173.76" r="2.15"/><circle cx="540.07" cy="170.26" r="2.15"/><circle cx="538.76" cy="176.83" r="2.15"/><circle cx="572.04" cy="177.7" r="2.15"/><circle cx="575.55" cy="179.02" r="2.15"/><circle cx="551.9" cy="176.4" r="2.15"/><circle cx="563.29" cy="178.15" r="2.15"/><circle cx="554.52" cy="177.7" r="2.15"/><circle cx="550.15" cy="179.02" r="2.15"/><circle cx="541.39" cy="179.89" r="2.15"/><circle cx="582.56" cy="191.44" r="2.15"/><circle cx="582.56" cy="189.31" r="2.15"/><circle cx="582.56" cy="187.18" r="2.15"/><circle cx="582.56" cy="185.06" r="2.15"/><circle cx="582.56" cy="182.93" r="2.15"/><circle cx="589.81" cy="188.25" r="2.15"/><circle cx="589.81" cy="186.12" r="2.15"/><circle cx="588.78" cy="189.31" r="2.15"/><circle cx="584.63" cy="190.37" r="2.15"/><circle cx="585.67" cy="188.25" r="2.15"/><circle cx="515.46" cy="110.98" r="2.15"/><circle cx="550.41" cy="191.44" r="2.15"/><circle cx="551.44" cy="191.44" r="2.15"/><circle cx="555.59" cy="191.44" r="2.15"/><circle cx="556.63" cy="191.44" r="2.15"/><circle cx="557.67" cy="191.44" r="2.15"/><circle cx="558.7" cy="191.44" r="2.15"/><circle cx="559.74" cy="191.44" r="2.15"/><circle cx="560.78" cy="191.44" r="2.15"/><circle cx="561.81" cy="191.44" r="2.15"/><circle cx="562.85" cy="191.44" r="2.15"/><circle cx="565.96" cy="191.44" r="2.15"/><circle cx="568.04" cy="191.44" r="2.15"/><circle cx="570.11" cy="191.44" r="2.15"/><circle cx="571.15" cy="191.44" r="2.15"/><circle cx="573.22" cy="191.44" r="2.15"/><circle cx="574.26" cy="191.44" r="2.15"/><circle cx="577.37" cy="191.44" r="2.15"/><circle cx="579.44" cy="191.44" r="2.15"/><circle cx="544.19" cy="190.37" r="2.15"/><circle cx="549.37" cy="190.37" r="2.15"/><circle cx="550.41" cy="190.37" r="2.15"/><circle cx="551.44" cy="190.37" r="2.15"/><circle cx="552.48" cy="190.37" r="2.15"/><circle cx="553.52" cy="190.37" r="2.15"/><circle cx="554.56" cy="190.37" r="2.15"/><circle cx="556.63" cy="190.37" r="2.15"/><circle cx="558.7" cy="190.37" r="2.15"/><circle cx="559.74" cy="190.37" r="2.15"/><circle cx="561.81" cy="190.37" r="2.15"/><circle cx="562.85" cy="190.37" r="2.15"/><circle cx="563.89" cy="190.37" r="2.15"/><circle cx="565.96" cy="190.37" r="2.15"/><circle cx="568.04" cy="190.37" r="2.15"/><circle cx="571.15" cy="190.37" r="2.15"/><circle cx="573.22" cy="190.37" r="2.15"/><circle cx="574.26" cy="190.37" r="2.15"/><circle cx="575.3" cy="190.37" r="2.15"/><circle cx="576.33" cy="190.37" r="2.15"/><circle cx="577.37" cy="190.37" r="2.15"/><circle cx="579.44" cy="190.37" r="2.15"/><circle cx="546.26" cy="189.31" r="2.15"/><circle cx="547.3" cy="189.31" r="2.15"/><circle cx="548.33" cy="189.31" r="2.15"/><circle cx="550.41" cy="189.31" r="2.15"/><circle cx="554.56" cy="189.31" r="2.15"/><circle cx="556.63" cy="189.31" r="2.15"/><circle cx="557.67" cy="189.31" r="2.15"/><circle cx="560.78" cy="189.31" r="2.15"/><circle cx="562.85" cy="189.31" r="2.15"/><circle cx="563.89" cy="189.31" r="2.15"/><circle cx="564.93" cy="189.31" r="2.15"/><circle cx="565.96" cy="189.31" r="2.15"/><circle cx="567" cy="189.31" r="2.15"/><circle cx="568.04" cy="189.31" r="2.15"/><circle cx="571.15" cy="189.31" r="2.15"/><circle cx="572.19" cy="189.31" r="2.15"/><circle cx="574.26" cy="189.31" r="2.15"/><circle cx="575.3" cy="189.31" r="2.15"/><circle cx="576.33" cy="189.31" r="2.15"/><circle cx="577.37" cy="189.31" r="2.15"/><circle cx="579.44" cy="189.31" r="2.15"/><circle cx="580.48" cy="189.31" r="2.15"/><circle cx="544.19" cy="188.25" r="2.15"/><circle cx="546.26" cy="188.25" r="2.15"/><circle cx="547.3" cy="188.25" r="2.15"/><circle cx="549.37" cy="188.25" r="2.15"/><circle cx="554.56" cy="188.25" r="2.15"/><circle cx="555.59" cy="188.25" r="2.15"/><circle cx="556.63" cy="188.25" r="2.15"/><circle cx="558.7" cy="188.25" r="2.15"/><circle cx="559.74" cy="188.25" r="2.15"/><circle cx="563.89" cy="188.25" r="2.15"/><circle cx="564.93" cy="188.25" r="2.15"/><circle cx="567" cy="188.25" r="2.15"/><circle cx="568.04" cy="188.25" r="2.15"/><circle cx="569.07" cy="188.25" r="2.15"/><circle cx="570.11" cy="188.25" r="2.15"/><circle cx="571.15" cy="188.25" r="2.15"/><circle cx="575.3" cy="188.25" r="2.15"/><circle cx="576.33" cy="188.25" r="2.15"/><circle cx="577.37" cy="188.25" r="2.15"/><circle cx="580.48" cy="188.25" r="2.15"/><circle cx="543.15" cy="187.18" r="2.15"/><circle cx="549.37" cy="187.18" r="2.15"/><circle cx="551.44" cy="187.18" r="2.15"/><circle cx="552.48" cy="187.18" r="2.15"/><circle cx="555.59" cy="187.18" r="2.15"/><circle cx="559.74" cy="187.18" r="2.15"/><circle cx="560.78" cy="187.18" r="2.15"/><circle cx="561.81" cy="187.18" r="2.15"/><circle cx="563.89" cy="187.18" r="2.15"/><circle cx="568.04" cy="187.18" r="2.15"/><circle cx="572.19" cy="187.18" r="2.15"/><circle cx="542.11" cy="186.12" r="2.15"/><circle cx="543.15" cy="186.12" r="2.15"/><circle cx="544.19" cy="186.12" r="2.15"/><circle cx="547.3" cy="186.12" r="2.15"/><circle cx="551.44" cy="186.12" r="2.15"/><circle cx="555.59" cy="186.12" r="2.15"/><circle cx="560.78" cy="186.12" r="2.15"/><circle cx="561.81" cy="186.12" r="2.15"/><circle cx="562.85" cy="186.12" r="2.15"/><circle cx="564.93" cy="186.12" r="2.15"/><circle cx="568.04" cy="186.12" r="2.15"/><circle cx="569.07" cy="186.12" r="2.15"/><circle cx="570.11" cy="186.12" r="2.15"/><circle cx="571.15" cy="186.12" r="2.15"/><circle cx="572.19" cy="186.12" r="2.15"/><circle cx="573.22" cy="186.12" r="2.15"/><circle cx="574.26" cy="186.12" r="2.15"/><circle cx="575.3" cy="186.12" r="2.15"/><circle cx="541.07" cy="185.06" r="2.15"/><circle cx="542.11" cy="185.06" r="2.15"/><circle cx="543.15" cy="185.06" r="2.15"/><circle cx="546.26" cy="185.06" r="2.15"/><circle cx="548.33" cy="185.06" r="2.15"/><circle cx="549.37" cy="185.06" r="2.15"/><circle cx="550.41" cy="185.06" r="2.15"/><circle cx="551.44" cy="185.06" r="2.15"/><circle cx="552.48" cy="185.06" r="2.15"/><circle cx="554.56" cy="185.06" r="2.15"/><circle cx="555.59" cy="185.06" r="2.15"/><circle cx="557.67" cy="185.06" r="2.15"/><circle cx="558.7" cy="185.06" r="2.15"/><circle cx="559.74" cy="185.06" r="2.15"/><circle cx="563.89" cy="185.06" r="2.15"/><circle cx="567" cy="185.06" r="2.15"/><circle cx="568.04" cy="185.06" r="2.15"/><circle cx="570.11" cy="185.06" r="2.15"/><circle cx="574.26" cy="185.06" r="2.15"/><circle cx="542.11" cy="184" r="2.15"/><circle cx="543.15" cy="184" r="2.15"/><circle cx="544.19" cy="184" r="2.15"/><circle cx="546.26" cy="184" r="2.15"/><circle cx="549.37" cy="184" r="2.15"/><circle cx="550.41" cy="184" r="2.15"/><circle cx="551.44" cy="184" r="2.15"/><circle cx="552.48" cy="184" r="2.15"/><circle cx="554.56" cy="184" r="2.15"/><circle cx="558.7" cy="184" r="2.15"/><circle cx="560.78" cy="184" r="2.15"/><circle cx="561.81" cy="184" r="2.15"/><circle cx="562.85" cy="184" r="2.15"/><circle cx="564.93" cy="184" r="2.15"/><circle cx="565.96" cy="184" r="2.15"/><circle cx="567" cy="184" r="2.15"/><circle cx="568.04" cy="184" r="2.15"/><circle cx="570.11" cy="184" r="2.15"/><circle cx="571.15" cy="184" r="2.15"/><circle cx="541.07" cy="182.93" r="2.15"/><circle cx="542.11" cy="182.93" r="2.15"/><circle cx="543.15" cy="182.93" r="2.15"/><circle cx="546.26" cy="182.93" r="2.15"/><circle cx="547.3" cy="182.93" r="2.15"/><circle cx="548.33" cy="182.93" r="2.15"/><circle cx="550.41" cy="182.93" r="2.15"/><circle cx="552.48" cy="182.93" r="2.15"/><circle cx="556.63" cy="182.93" r="2.15"/><circle cx="558.7" cy="182.93" r="2.15"/><circle cx="559.74" cy="182.93" r="2.15"/><circle cx="560.78" cy="182.93" r="2.15"/><circle cx="561.81" cy="182.93" r="2.15"/><circle cx="562.85" cy="182.93" r="2.15"/><circle cx="563.89" cy="182.93" r="2.15"/><circle cx="564.93" cy="182.93" r="2.15"/><circle cx="568.04" cy="182.93" r="2.15"/><circle cx="569.07" cy="182.93" r="2.15"/><circle cx="570.11" cy="182.93" r="2.15"/><circle cx="573.22" cy="182.93" r="2.15"/><circle cx="541.07" cy="181.87" r="2.15"/><circle cx="543.15" cy="181.87" r="2.15"/><circle cx="551.44" cy="181.87" r="2.15"/><circle cx="553.52" cy="181.87" r="2.15"/><circle cx="554.56" cy="181.87" r="2.15"/><circle cx="556.63" cy="181.87" r="2.15"/><circle cx="557.67" cy="181.87" r="2.15"/><circle cx="559.74" cy="181.87" r="2.15"/><circle cx="562.85" cy="181.87" r="2.15"/><circle cx="563.89" cy="181.87" r="2.15"/><circle cx="567" cy="181.87" r="2.15"/><circle cx="568.04" cy="181.87" r="2.15"/><circle cx="569.07" cy="181.87" r="2.15"/><circle cx="570.11" cy="181.87" r="2.15"/><circle cx="571.15" cy="181.87" r="2.15"/><circle cx="572.19" cy="181.87" r="2.15"/><circle cx="542.11" cy="180.81" r="2.15"/><circle cx="549.37" cy="180.81" r="2.15"/><circle cx="553.52" cy="180.81" r="2.15"/><circle cx="560.78" cy="180.81" r="2.15"/><circle cx="562.85" cy="180.81" r="2.15"/><circle cx="567" cy="180.81" r="2.15"/><circle cx="568.04" cy="180.81" r="2.15"/><circle cx="570.11" cy="180.81" r="2.15"/><circle cx="572.19" cy="180.81" r="2.15"/><circle cx="573.22" cy="180.81" r="2.15"/><circle cx="541.07" cy="179.74" r="2.15"/><circle cx="542.11" cy="179.74" r="2.15"/><circle cx="549.37" cy="179.74" r="2.15"/><circle cx="550.41" cy="179.74" r="2.15"/><circle cx="551.44" cy="179.74" r="2.15"/><circle cx="555.59" cy="179.74" r="2.15"/><circle cx="561.81" cy="179.74" r="2.15"/><circle cx="562.85" cy="179.74" r="2.15"/><circle cx="564.93" cy="179.74" r="2.15"/><circle cx="567" cy="179.74" r="2.15"/><circle cx="568.04" cy="179.74" r="2.15"/><circle cx="570.11" cy="179.74" r="2.15"/><circle cx="572.19" cy="179.74" r="2.15"/><circle cx="549.37" cy="178.68" r="2.15"/><circle cx="551.44" cy="178.68" r="2.15"/><circle cx="554.56" cy="178.68" r="2.15"/><circle cx="555.59" cy="178.68" r="2.15"/><circle cx="561.81" cy="178.68" r="2.15"/><circle cx="563.89" cy="178.68" r="2.15"/><circle cx="567" cy="178.68" r="2.15"/><circle cx="569.07" cy="178.68" r="2.15"/><circle cx="570.11" cy="178.68" r="2.15"/><circle cx="572.19" cy="178.68" r="2.15"/><circle cx="543.15" cy="177.62" r="2.15"/><circle cx="548.33" cy="177.62" r="2.15"/><circle cx="550.41" cy="177.62" r="2.15"/><circle cx="552.48" cy="177.62" r="2.15"/><circle cx="553.52" cy="177.62" r="2.15"/><circle cx="561.81" cy="177.62" r="2.15"/><circle cx="562.85" cy="177.62" r="2.15"/><circle cx="571.15" cy="177.62" r="2.15"/><circle cx="542.11" cy="176.56" r="2.15"/><circle cx="543.15" cy="176.56" r="2.15"/><circle cx="544.19" cy="176.56" r="2.15"/><circle cx="546.26" cy="176.56" r="2.15"/><circle cx="547.3" cy="176.56" r="2.15"/><circle cx="548.33" cy="176.56" r="2.15"/><circle cx="552.48" cy="176.56" r="2.15"/><circle cx="569.07" cy="176.56" r="2.15"/><circle cx="570.11" cy="176.56" r="2.15"/><circle cx="571.15" cy="176.56" r="2.15"/><circle cx="572.19" cy="176.56" r="2.15"/><circle cx="544.19" cy="175.49" r="2.15"/><circle cx="548.33" cy="175.49" r="2.15"/><circle cx="554.56" cy="175.49" r="2.15"/><circle cx="555.59" cy="175.49" r="2.15"/><circle cx="556.63" cy="175.49" r="2.15"/><circle cx="560.78" cy="175.49" r="2.15"/><circle cx="561.81" cy="175.49" r="2.15"/><circle cx="569.07" cy="175.49" r="2.15"/><circle cx="570.11" cy="175.49" r="2.15"/><circle cx="571.15" cy="175.49" r="2.15"/><circle cx="544.19" cy="174.43" r="2.15"/><circle cx="545.22" cy="174.43" r="2.15"/><circle cx="546.26" cy="174.43" r="2.15"/><circle cx="548.33" cy="174.43" r="2.15"/><circle cx="550.41" cy="174.43" r="2.15"/><circle cx="556.63" cy="174.43" r="2.15"/><circle cx="558.7" cy="174.43" r="2.15"/><circle cx="561.81" cy="174.43" r="2.15"/><circle cx="562.85" cy="174.43" r="2.15"/><circle cx="569.07" cy="174.43" r="2.15"/><circle cx="570.11" cy="174.43" r="2.15"/><circle cx="571.15" cy="174.43" r="2.15"/></g>
<rect class="fr" x="505.4" y="15.65" width="179.2" height="183.65"/>
<path class="tk" d="M512.04 199.3v5.2M505.4 192.5h-5.2M563.89 199.3v5.2M505.4 139.36h-5.2M615.74 199.3v5.2M505.4 86.22h-5.2M667.59 199.3v5.2M505.4 33.08h-5.2"/>
<text class="k" x="512.04" y="211.2">0</text><text class="k" x="563.89" y="211.2">50</text><text class="k" x="616.04" y="211.2">100</text><text class="k" x="667.89" y="211.2">150</text>
<text class="k" transform="translate(499.8 192.5) rotate(-90)">0</text><text class="k" transform="translate(499.8 139.36) rotate(-90)">50</text><text class="k" transform="translate(499.8 86.22) rotate(-90)">100</text><text class="k" transform="translate(499.8 33.08) rotate(-90)">150</text>
<text class="x" x="595" y="223.9">Days to onset of visual signs</text>
<text class="y" transform="translate(486.4 107.48) rotate(-90)">Days from visual signs and death</text>
<text class="t" x="595" y="7.3" xml:space="preserve">trial 1: -0.19 (P=0.003)</text>
<text class="l" x="483.6" y="7.3">e</text>
</g>
<g id="panel-f">
<g class="p"><circle cx="526.83" cy="326.71" r="2.15"/><circle cx="526.83" cy="344.68" r="2.15"/><circle cx="533.04" cy="374.23" r="2.15"/><circle cx="515.51" cy="410.59" r="2.15"/><circle cx="515.51" cy="419.09" r="2.15"/><circle cx="523.65" cy="427.67" r="2.15"/><circle cx="527.95" cy="427.67" r="2.15"/><circle cx="538.28" cy="412.69" r="2.15"/><circle cx="533.91" cy="418.65" r="2.15"/><circle cx="535.05" cy="422.33" r="2.15"/><circle cx="557.99" cy="399.82" r="2.15"/><circle cx="557.55" cy="414.71" r="2.15"/><circle cx="559.31" cy="416.46" r="2.15"/><circle cx="553.61" cy="421.71" r="2.15"/><circle cx="552.56" cy="424.34" r="2.15"/><circle cx="557.55" cy="421.71" r="2.15"/><circle cx="558.87" cy="424.78" r="2.15"/><circle cx="548.35" cy="428.54" r="2.15"/><circle cx="551.42" cy="429.77" r="2.15"/><circle cx="555.8" cy="429.59" r="2.15"/><circle cx="560.87" cy="402.01" r="2.15"/><circle cx="568.15" cy="402.01" r="2.15"/><circle cx="581.73" cy="398.94" r="2.15"/><circle cx="591.97" cy="400.96" r="2.15"/><circle cx="566.31" cy="409.45" r="2.15"/><circle cx="564.82" cy="412.96" r="2.15"/><circle cx="563.94" cy="415.14" r="2.15"/><circle cx="560.44" cy="416.02" r="2.15"/><circle cx="565.69" cy="421.28" r="2.15"/><circle cx="563.94" cy="423.91" r="2.15"/><circle cx="568.76" cy="422.16" r="2.15"/><circle cx="570.52" cy="424.34" r="2.15"/><circle cx="571.39" cy="426.54" r="2.15"/><circle cx="566.13" cy="428.29" r="2.15"/><circle cx="562.62" cy="427.84" r="2.15"/><circle cx="560" cy="426.54" r="2.15"/><circle cx="576.64" cy="421.71" r="2.15"/><circle cx="578.83" cy="423.91" r="2.15"/><circle cx="581.46" cy="425.66" r="2.15"/><circle cx="582.95" cy="427.67" r="2.15"/><circle cx="578.4" cy="428.72" r="2.15"/><circle cx="586.89" cy="419.96" r="2.15"/><circle cx="590.83" cy="429.59" r="2.15"/><circle cx="595.04" cy="414.97" r="2.15"/><circle cx="597.23" cy="418.82" r="2.15"/><circle cx="598.1" cy="404.19" r="2.15"/><circle cx="597.23" cy="400.96" r="2.15"/><circle cx="593.98" cy="423.21" r="2.15"/><circle cx="596.78" cy="424.34" r="2.15"/><circle cx="598.98" cy="425.66" r="2.15"/><circle cx="599.85" cy="427.84" r="2.15"/><circle cx="606.57" cy="398.94" r="2.15"/><circle cx="608.76" cy="399.82" r="2.15"/><circle cx="612.7" cy="399.82" r="2.15"/><circle cx="619.97" cy="400.96" r="2.15"/><circle cx="601.32" cy="398.94" r="2.15"/><circle cx="602.19" cy="401.57" r="2.15"/><circle cx="602.19" cy="406.39" r="2.15"/><circle cx="607.01" cy="403.76" r="2.15"/><circle cx="607.88" cy="406.82" r="2.15"/><circle cx="612.7" cy="406.39" r="2.15"/><circle cx="617.96" cy="406.39" r="2.15"/><circle cx="601.32" cy="412.52" r="2.15"/><circle cx="605.69" cy="411.64" r="2.15"/><circle cx="606.57" cy="414.27" r="2.15"/><circle cx="609.63" cy="415.14" r="2.15"/><circle cx="613.14" cy="409.02" r="2.15"/><circle cx="617.51" cy="409.45" r="2.15"/><circle cx="621.9" cy="411.47" r="2.15"/><circle cx="612.7" cy="416.89" r="2.15"/><circle cx="605.69" cy="419.96" r="2.15"/><circle cx="608.33" cy="419.09" r="2.15"/><circle cx="607.44" cy="421.28" r="2.15"/><circle cx="614.89" cy="422.16" r="2.15"/><circle cx="614.45" cy="426.09" r="2.15"/><circle cx="616.64" cy="427.84" r="2.15"/><circle cx="614.02" cy="423.91" r="2.15"/><circle cx="602.19" cy="428.72" r="2.15"/><circle cx="607.44" cy="428.72" r="2.15"/><circle cx="600" cy="425.66" r="2.15"/><circle cx="633.49" cy="400.96" r="2.15"/><circle cx="641.82" cy="402.01" r="2.15"/><circle cx="627.37" cy="406.21" r="2.15"/><circle cx="635.51" cy="406.21" r="2.15"/><circle cx="639.72" cy="407.44" r="2.15"/><circle cx="627.37" cy="411.47" r="2.15"/><circle cx="636.65" cy="414.71" r="2.15"/><circle cx="660.3" cy="412.78" r="2.15"/><circle cx="641.82" cy="418.82" r="2.15"/><circle cx="653.03" cy="421.11" r="2.15"/><circle cx="658.28" cy="419.96" r="2.15"/><circle cx="665.47" cy="417.95" r="2.15"/><circle cx="664.42" cy="420.4" r="2.15"/><circle cx="667.48" cy="421.71" r="2.15"/><circle cx="665.47" cy="424.34" r="2.15"/><circle cx="670.55" cy="423.91" r="2.15"/><circle cx="672.74" cy="425.66" r="2.15"/><circle cx="674.49" cy="427.84" r="2.15"/><circle cx="662.4" cy="428.54" r="2.15"/><circle cx="656.27" cy="427.67" r="2.15"/><circle cx="652.15" cy="428.54" r="2.15"/><circle cx="649.09" cy="421.71" r="2.15"/><circle cx="646.02" cy="423.03" r="2.15"/><circle cx="650.4" cy="423.91" r="2.15"/><circle cx="654.79" cy="423.03" r="2.15"/><circle cx="658.28" cy="423.03" r="2.15"/><circle cx="642.52" cy="423.91" r="2.15"/><circle cx="645.15" cy="425.66" r="2.15"/><circle cx="646.89" cy="428.29" r="2.15"/><circle cx="647.77" cy="430.04" r="2.15"/><circle cx="644.71" cy="429.59" r="2.15"/><circle cx="603.76" cy="399.67" r="2.15"/><circle cx="610.18" cy="409.02" r="2.15"/><circle cx="615.15" cy="411.64" r="2.15"/><circle cx="614.85" cy="414.56" r="2.15"/><circle cx="604.63" cy="401.42" r="2.15"/><circle cx="609.01" cy="402.59" r="2.15"/><circle cx="616.78" cy="421.01" r="2.15"/><circle cx="616.78" cy="419.95" r="2.15"/><circle cx="616.78" cy="417.83" r="2.15"/><circle cx="616.78" cy="415.7" r="2.15"/><circle cx="616.78" cy="414.64" r="2.15"/><circle cx="617.81" cy="421.01" r="2.15"/><circle cx="617.81" cy="419.95" r="2.15"/><circle cx="617.81" cy="418.89" r="2.15"/><circle cx="617.81" cy="417.83" r="2.15"/><circle cx="617.81" cy="416.77" r="2.15"/><circle cx="617.81" cy="414.64" r="2.15"/><circle cx="618.85" cy="422.07" r="2.15"/><circle cx="618.85" cy="417.83" r="2.15"/><circle cx="618.85" cy="415.7" r="2.15"/><circle cx="619.89" cy="423.13" r="2.15"/><circle cx="619.89" cy="422.07" r="2.15"/><circle cx="619.89" cy="421.01" r="2.15"/><circle cx="619.89" cy="419.95" r="2.15"/><circle cx="619.89" cy="417.83" r="2.15"/><circle cx="619.89" cy="414.64" r="2.15"/><circle cx="620.93" cy="422.07" r="2.15"/><circle cx="620.93" cy="421.01" r="2.15"/><circle cx="620.93" cy="419.95" r="2.15"/><circle cx="620.93" cy="417.83" r="2.15"/><circle cx="620.93" cy="416.77" r="2.15"/><circle cx="620.93" cy="414.64" r="2.15"/><circle cx="621.96" cy="424.19" r="2.15"/><circle cx="621.96" cy="421.01" r="2.15"/><circle cx="621.96" cy="415.7" r="2.15"/><circle cx="623" cy="425.25" r="2.15"/><circle cx="623" cy="424.19" r="2.15"/><circle cx="623" cy="422.07" r="2.15"/><circle cx="623" cy="421.01" r="2.15"/><circle cx="623" cy="419.95" r="2.15"/><circle cx="623" cy="414.64" r="2.15"/><circle cx="624.04" cy="422.07" r="2.15"/><circle cx="624.04" cy="418.89" r="2.15"/><circle cx="624.04" cy="416.77" r="2.15"/><circle cx="625.07" cy="424.19" r="2.15"/><circle cx="625.07" cy="423.13" r="2.15"/><circle cx="625.07" cy="421.01" r="2.15"/><circle cx="625.07" cy="419.95" r="2.15"/><circle cx="625.07" cy="418.89" r="2.15"/><circle cx="625.07" cy="417.83" r="2.15"/><circle cx="625.07" cy="416.77" r="2.15"/><circle cx="626.11" cy="427.38" r="2.15"/><circle cx="626.11" cy="426.32" r="2.15"/><circle cx="626.11" cy="425.25" r="2.15"/><circle cx="626.11" cy="423.13" r="2.15"/><circle cx="626.11" cy="422.07" r="2.15"/><circle cx="626.11" cy="416.77" r="2.15"/><circle cx="626.11" cy="415.7" r="2.15"/><circle cx="627.15" cy="427.38" r="2.15"/><circle cx="627.15" cy="424.19" r="2.15"/><circle cx="627.15" cy="423.13" r="2.15"/><circle cx="627.15" cy="422.07" r="2.15"/><circle cx="627.15" cy="421.01" r="2.15"/><circle cx="627.15" cy="419.95" r="2.15"/><circle cx="627.15" cy="417.83" r="2.15"/><circle cx="627.15" cy="416.77" r="2.15"/><circle cx="627.15" cy="415.7" r="2.15"/><circle cx="628.19" cy="427.38" r="2.15"/><circle cx="628.19" cy="419.95" r="2.15"/><circle cx="629.22" cy="427.38" r="2.15"/><circle cx="629.22" cy="426.32" r="2.15"/><circle cx="629.22" cy="425.25" r="2.15"/><circle cx="629.22" cy="423.13" r="2.15"/><circle cx="629.22" cy="422.07" r="2.15"/><circle cx="629.22" cy="421.01" r="2.15"/><circle cx="629.22" cy="419.95" r="2.15"/><circle cx="629.22" cy="418.89" r="2.15"/><circle cx="629.22" cy="417.83" r="2.15"/><circle cx="629.22" cy="416.77" r="2.15"/><circle cx="630.26" cy="428.44" r="2.15"/><circle cx="630.26" cy="427.38" r="2.15"/><circle cx="630.26" cy="426.32" r="2.15"/><circle cx="630.26" cy="425.25" r="2.15"/><circle cx="630.26" cy="422.07" r="2.15"/><circle cx="630.26" cy="421.01" r="2.15"/><circle cx="630.26" cy="419.95" r="2.15"/><circle cx="630.26" cy="418.89" r="2.15"/><circle cx="630.26" cy="417.83" r="2.15"/><circle cx="631.3" cy="427.38" r="2.15"/><circle cx="631.3" cy="426.32" r="2.15"/><circle cx="631.3" cy="425.25" r="2.15"/><circle cx="631.3" cy="424.19" r="2.15"/><circle cx="631.3" cy="423.13" r="2.15"/><circle cx="631.3" cy="422.07" r="2.15"/><circle cx="631.3" cy="419.95" r="2.15"/><circle cx="631.3" cy="418.89" r="2.15"/><circle cx="632.33" cy="427.38" r="2.15"/><circle cx="632.33" cy="425.25" r="2.15"/><circle cx="632.33" cy="419.95" r="2.15"/><circle cx="632.33" cy="418.89" r="2.15"/><circle cx="632.33" cy="417.83" r="2.15"/><circle cx="633.37" cy="425.25" r="2.15"/><circle cx="633.37" cy="424.19" r="2.15"/><circle cx="634.41" cy="429.5" r="2.15"/><circle cx="634.41" cy="427.38" r="2.15"/><circle cx="634.41" cy="426.32" r="2.15"/><circle cx="634.41" cy="425.25" r="2.15"/><circle cx="634.41" cy="424.19" r="2.15"/><circle cx="634.41" cy="423.13" r="2.15"/><circle cx="634.41" cy="419.95" r="2.15"/><circle cx="635.44" cy="427.38" r="2.15"/><circle cx="635.44" cy="426.32" r="2.15"/><circle cx="635.44" cy="425.25" r="2.15"/><circle cx="635.44" cy="424.19" r="2.15"/><circle cx="635.44" cy="423.13" r="2.15"/><circle cx="635.44" cy="418.89" r="2.15"/><circle cx="636.48" cy="427.38" r="2.15"/><circle cx="636.48" cy="422.07" r="2.15"/><circle cx="636.48" cy="421.01" r="2.15"/><circle cx="637.52" cy="429.5" r="2.15"/><circle cx="637.52" cy="426.32" r="2.15"/><circle cx="637.52" cy="425.25" r="2.15"/><circle cx="637.52" cy="422.07" r="2.15"/><circle cx="637.52" cy="421.01" r="2.15"/><circle cx="637.52" cy="419.95" r="2.15"/><circle cx="638.56" cy="427.38" r="2.15"/><circle cx="638.56" cy="423.13" r="2.15"/><circle cx="638.56" cy="421.01" r="2.15"/><circle cx="639.59" cy="429.5" r="2.15"/><circle cx="639.59" cy="424.19" r="2.15"/><circle cx="627.15" cy="430.13" r="2.15"/><circle cx="628.19" cy="430.13" r="2.15"/><circle cx="629.22" cy="430.13" r="2.15"/><circle cx="630.26" cy="430.13" r="2.15"/><circle cx="631.3" cy="430.13" r="2.15"/><circle cx="632.33" cy="430.13" r="2.15"/><circle cx="633.37" cy="430.13" r="2.15"/><circle cx="634.41" cy="430.13" r="2.15"/><circle cx="636.48" cy="430.13" r="2.15"/><circle cx="637.52" cy="430.13" r="2.15"/><circle cx="638.56" cy="430.13" r="2.15"/><circle cx="639.59" cy="429.5" r="2.15"/><circle cx="639.59" cy="427.38" r="2.15"/><circle cx="639.59" cy="426.32" r="2.15"/><circle cx="639.59" cy="424.19" r="2.15"/><circle cx="640.63" cy="426.32" r="2.15"/><circle cx="641.67" cy="428.44" r="2.15"/><circle cx="641.67" cy="426.32" r="2.15"/><circle cx="641.67" cy="425.25" r="2.15"/></g>
<rect class="fr" x="505.4" y="254" width="179.2" height="183.35"/>
<path class="tk" d="M512.04 437.35v5.2M505.4 430.56h-5.2M563.89 437.35v5.2M505.4 377.51h-5.2M615.74 437.35v5.2M505.4 324.45h-5.2M667.59 437.35v5.2M505.4 271.4h-5.2"/>
<text class="k" x="512.04" y="449.25">0</text><text class="k" x="563.89" y="449.25">50</text><text class="k" x="616.04" y="449.25">100</text><text class="k" x="667.89" y="449.25">150</text>
<text class="k" transform="translate(499.8 430.56) rotate(-90)">0</text><text class="k" transform="translate(499.8 377.51) rotate(-90)">50</text><text class="k" transform="translate(499.8 324.45) rotate(-90)">100</text><text class="k" transform="translate(499.8 271.4) rotate(-90)">150</text>
<text class="x" x="595" y="461.95">Days to onset of visual signs</text>
<text class="y" transform="translate(486.4 345.68) rotate(-90)">Days between visual signs and death</text>
<text class="t" x="595" y="245.1" xml:space="preserve">trial 2: -0.34 (P&lt;0.001)</text>
<text class="l" x="484.2" y="245.1">f</text>
</g>
</svg>
</body>
</html>
